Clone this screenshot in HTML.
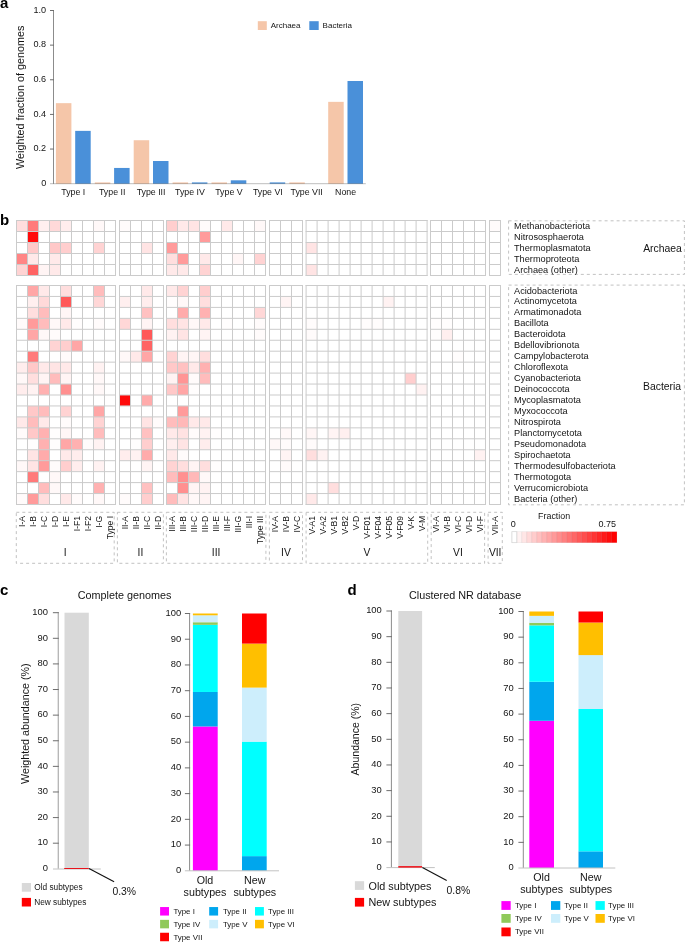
<!DOCTYPE html>
<html><head><meta charset="utf-8"><title>Figure</title>
<style>
html,body{margin:0;padding:0;background:#fff;}
body{width:685px;height:942px;overflow:hidden;}
svg{display:block;font-family:"Liberation Sans", sans-serif;will-change:transform;}
</style></head><body>
<svg width="685" height="942" viewBox="0 0 685 942">
<rect x="0" y="0" width="685" height="942" fill="#fff"/>
<text x="0.00" y="7.80" font-size="15" text-anchor="start" fill="#000" font-weight="bold" >a</text>
<text x="0.00" y="224.90" font-size="15" text-anchor="start" fill="#000" font-weight="bold" >b</text>
<text x="0.00" y="595.00" font-size="15" text-anchor="start" fill="#000" font-weight="bold" >c</text>
<text x="347.50" y="594.70" font-size="15" text-anchor="start" fill="#000" font-weight="bold" >d</text>
<line x1="53.50" y1="10.00" x2="53.50" y2="183.70" stroke="#8c8c8c" stroke-width="1" />
<text x="46.20" y="183.00" font-size="9.1" text-anchor="end" fill="#141414" font-weight="normal" dominant-baseline="central" >0</text>
<line x1="50.00" y1="149.06" x2="54.00" y2="149.06" stroke="#6e6e6e" stroke-width="1" />
<text x="46.20" y="148.36" font-size="9.1" text-anchor="end" fill="#141414" font-weight="normal" dominant-baseline="central" >0.2</text>
<line x1="50.00" y1="114.42" x2="54.00" y2="114.42" stroke="#6e6e6e" stroke-width="1" />
<text x="46.20" y="113.72" font-size="9.1" text-anchor="end" fill="#141414" font-weight="normal" dominant-baseline="central" >0.4</text>
<line x1="50.00" y1="79.78" x2="54.00" y2="79.78" stroke="#6e6e6e" stroke-width="1" />
<text x="46.20" y="79.08" font-size="9.1" text-anchor="end" fill="#141414" font-weight="normal" dominant-baseline="central" >0.6</text>
<line x1="50.00" y1="45.14" x2="54.00" y2="45.14" stroke="#6e6e6e" stroke-width="1" />
<text x="46.20" y="44.44" font-size="9.1" text-anchor="end" fill="#141414" font-weight="normal" dominant-baseline="central" >0.8</text>
<line x1="50.00" y1="10.50" x2="54.00" y2="10.50" stroke="#6e6e6e" stroke-width="1" />
<text x="46.20" y="9.80" font-size="9.1" text-anchor="end" fill="#141414" font-weight="normal" dominant-baseline="central" >1.0</text>
<text transform="translate(20.3,97.3) rotate(-90)" font-size="10.8" text-anchor="middle" dominant-baseline="central" fill="#141414">Weighted fraction of genomes</text>
<rect x="55.90" y="103.16" width="15.50" height="80.54" fill="#f5c6a9" />
<rect x="75.20" y="130.87" width="15.50" height="52.83" fill="#4a90d9" />
<text x="73.30" y="192.30" font-size="8.8" text-anchor="middle" fill="#141414" font-weight="normal" dominant-baseline="central" >Type I</text>
<rect x="94.80" y="182.40" width="15.50" height="1.30" fill="#f5c6a9" />
<rect x="114.10" y="167.94" width="15.50" height="15.76" fill="#4a90d9" />
<text x="112.20" y="192.30" font-size="8.8" text-anchor="middle" fill="#141414" font-weight="normal" dominant-baseline="central" >Type II</text>
<rect x="133.70" y="140.23" width="15.50" height="43.47" fill="#f5c6a9" />
<rect x="153.00" y="161.01" width="15.50" height="22.69" fill="#4a90d9" />
<text x="151.10" y="192.30" font-size="8.8" text-anchor="middle" fill="#141414" font-weight="normal" dominant-baseline="central" >Type III</text>
<rect x="172.60" y="182.40" width="15.50" height="1.30" fill="#f5c6a9" />
<rect x="191.90" y="182.40" width="15.50" height="1.30" fill="#4a90d9" />
<text x="190.00" y="192.30" font-size="8.8" text-anchor="middle" fill="#141414" font-weight="normal" dominant-baseline="central" >Type IV</text>
<rect x="211.50" y="182.40" width="15.50" height="1.30" fill="#f5c6a9" />
<rect x="230.80" y="180.31" width="15.50" height="3.39" fill="#4a90d9" />
<text x="228.90" y="192.30" font-size="8.8" text-anchor="middle" fill="#141414" font-weight="normal" dominant-baseline="central" >Type V</text>
<rect x="269.70" y="182.40" width="15.50" height="1.30" fill="#4a90d9" />
<text x="267.80" y="192.30" font-size="8.8" text-anchor="middle" fill="#141414" font-weight="normal" dominant-baseline="central" >Type VI</text>
<rect x="289.30" y="182.40" width="15.50" height="1.30" fill="#f5c6a9" />
<text x="306.70" y="192.30" font-size="8.8" text-anchor="middle" fill="#141414" font-weight="normal" dominant-baseline="central" >Type VII</text>
<rect x="328.20" y="101.85" width="15.50" height="81.85" fill="#f5c6a9" />
<rect x="347.50" y="80.99" width="15.50" height="102.71" fill="#4a90d9" />
<text x="345.60" y="192.30" font-size="8.8" text-anchor="middle" fill="#141414" font-weight="normal" dominant-baseline="central" >None</text>
<line x1="50.00" y1="183.70" x2="365.80" y2="183.70" stroke="rgba(0,0,0,0.26)" stroke-width="1" />
<rect x="257.80" y="21.20" width="9.00" height="8.80" fill="#f5c6a9" />
<text x="270.70" y="25.60" font-size="8.0" text-anchor="start" fill="#141414" font-weight="normal" dominant-baseline="central" >Archaea</text>
<rect x="309.30" y="21.20" width="9.40" height="8.80" fill="#4a90d9" />
<text x="322.60" y="25.60" font-size="8.0" text-anchor="start" fill="#141414" font-weight="normal" dominant-baseline="central" >Bacteria</text>
<rect x="16.50" y="220.50" width="11.00" height="11.00" fill="rgb(255,222,222)" />
<rect x="27.50" y="220.50" width="11.00" height="11.00" fill="rgb(255,122,122)" />
<rect x="38.50" y="220.50" width="11.00" height="11.00" fill="rgb(255,239,239)" />
<rect x="49.50" y="220.50" width="11.00" height="11.00" fill="rgb(255,217,217)" />
<rect x="60.50" y="220.50" width="11.00" height="11.00" fill="rgb(255,237,237)" />
<rect x="93.50" y="220.50" width="11.00" height="11.00" fill="rgb(255,248,248)" />
<rect x="119.50" y="220.50" width="11.00" height="11.00" fill="rgb(255,251,251)" />
<rect x="166.50" y="220.50" width="11.00" height="11.00" fill="rgb(255,206,206)" />
<rect x="177.50" y="220.50" width="11.00" height="11.00" fill="rgb(255,233,233)" />
<rect x="188.50" y="220.50" width="11.00" height="11.00" fill="rgb(255,228,228)" />
<rect x="199.50" y="220.50" width="11.00" height="11.00" fill="rgb(255,251,251)" />
<rect x="221.50" y="220.50" width="11.00" height="11.00" fill="rgb(255,233,233)" />
<rect x="254.50" y="220.50" width="11.00" height="11.00" fill="rgb(255,248,248)" />
<rect x="489.50" y="220.50" width="11.00" height="11.00" fill="rgb(255,251,251)" />
<rect x="27.50" y="231.50" width="11.00" height="11.00" fill="rgb(255,11,11)" />
<rect x="199.50" y="231.50" width="11.00" height="11.00" fill="rgb(255,155,155)" />
<rect x="27.50" y="242.50" width="11.00" height="11.00" fill="rgb(255,200,200)" />
<rect x="49.50" y="242.50" width="11.00" height="11.00" fill="rgb(255,200,200)" />
<rect x="60.50" y="242.50" width="11.00" height="11.00" fill="rgb(255,206,206)" />
<rect x="93.50" y="242.50" width="11.00" height="11.00" fill="rgb(255,211,211)" />
<rect x="141.50" y="242.50" width="11.00" height="11.00" fill="rgb(255,228,228)" />
<rect x="166.50" y="242.50" width="11.00" height="11.00" fill="rgb(255,155,155)" />
<rect x="306.10" y="242.50" width="11.00" height="11.00" fill="rgb(255,228,228)" />
<rect x="16.50" y="253.50" width="11.00" height="11.00" fill="rgb(255,133,133)" />
<rect x="27.50" y="253.50" width="11.00" height="11.00" fill="rgb(255,233,233)" />
<rect x="49.50" y="253.50" width="11.00" height="11.00" fill="rgb(255,233,233)" />
<rect x="166.50" y="253.50" width="11.00" height="11.00" fill="rgb(255,222,222)" />
<rect x="177.50" y="253.50" width="11.00" height="11.00" fill="rgb(255,155,155)" />
<rect x="199.50" y="253.50" width="11.00" height="11.00" fill="rgb(255,233,233)" />
<rect x="232.50" y="253.50" width="11.00" height="11.00" fill="rgb(255,246,246)" />
<rect x="254.50" y="253.50" width="11.00" height="11.00" fill="rgb(255,211,211)" />
<rect x="16.50" y="264.50" width="11.00" height="11.00" fill="rgb(255,211,211)" />
<rect x="27.50" y="264.50" width="11.00" height="11.00" fill="rgb(255,100,100)" />
<rect x="38.50" y="264.50" width="11.00" height="11.00" fill="rgb(255,244,244)" />
<rect x="49.50" y="264.50" width="11.00" height="11.00" fill="rgb(255,233,233)" />
<rect x="166.50" y="264.50" width="11.00" height="11.00" fill="rgb(255,233,233)" />
<rect x="177.50" y="264.50" width="11.00" height="11.00" fill="rgb(255,233,233)" />
<rect x="199.50" y="264.50" width="11.00" height="11.00" fill="rgb(255,211,211)" />
<rect x="306.10" y="264.50" width="11.00" height="11.00" fill="rgb(255,228,228)" />
<line x1="16.50" y1="220.00" x2="16.50" y2="276.00" stroke="#cbcbcb" stroke-width="1" />
<line x1="27.50" y1="220.00" x2="27.50" y2="276.00" stroke="#cbcbcb" stroke-width="1" />
<line x1="38.50" y1="220.00" x2="38.50" y2="276.00" stroke="#cbcbcb" stroke-width="1" />
<line x1="49.50" y1="220.00" x2="49.50" y2="276.00" stroke="#cbcbcb" stroke-width="1" />
<line x1="60.50" y1="220.00" x2="60.50" y2="276.00" stroke="#cbcbcb" stroke-width="1" />
<line x1="71.50" y1="220.00" x2="71.50" y2="276.00" stroke="#cbcbcb" stroke-width="1" />
<line x1="82.50" y1="220.00" x2="82.50" y2="276.00" stroke="#cbcbcb" stroke-width="1" />
<line x1="93.50" y1="220.00" x2="93.50" y2="276.00" stroke="#cbcbcb" stroke-width="1" />
<line x1="104.50" y1="220.00" x2="104.50" y2="276.00" stroke="#cbcbcb" stroke-width="1" />
<line x1="115.50" y1="220.00" x2="115.50" y2="276.00" stroke="#cbcbcb" stroke-width="1" />
<line x1="16.00" y1="220.50" x2="116.00" y2="220.50" stroke="#cbcbcb" stroke-width="1" />
<line x1="16.00" y1="231.50" x2="116.00" y2="231.50" stroke="#cbcbcb" stroke-width="1" />
<line x1="16.00" y1="242.50" x2="116.00" y2="242.50" stroke="#cbcbcb" stroke-width="1" />
<line x1="16.00" y1="253.50" x2="116.00" y2="253.50" stroke="#cbcbcb" stroke-width="1" />
<line x1="16.00" y1="264.50" x2="116.00" y2="264.50" stroke="#cbcbcb" stroke-width="1" />
<line x1="16.00" y1="275.50" x2="116.00" y2="275.50" stroke="#cbcbcb" stroke-width="1" />
<line x1="119.50" y1="220.00" x2="119.50" y2="276.00" stroke="#cbcbcb" stroke-width="1" />
<line x1="130.50" y1="220.00" x2="130.50" y2="276.00" stroke="#cbcbcb" stroke-width="1" />
<line x1="141.50" y1="220.00" x2="141.50" y2="276.00" stroke="#cbcbcb" stroke-width="1" />
<line x1="152.50" y1="220.00" x2="152.50" y2="276.00" stroke="#cbcbcb" stroke-width="1" />
<line x1="163.50" y1="220.00" x2="163.50" y2="276.00" stroke="#cbcbcb" stroke-width="1" />
<line x1="119.00" y1="220.50" x2="164.00" y2="220.50" stroke="#cbcbcb" stroke-width="1" />
<line x1="119.00" y1="231.50" x2="164.00" y2="231.50" stroke="#cbcbcb" stroke-width="1" />
<line x1="119.00" y1="242.50" x2="164.00" y2="242.50" stroke="#cbcbcb" stroke-width="1" />
<line x1="119.00" y1="253.50" x2="164.00" y2="253.50" stroke="#cbcbcb" stroke-width="1" />
<line x1="119.00" y1="264.50" x2="164.00" y2="264.50" stroke="#cbcbcb" stroke-width="1" />
<line x1="119.00" y1="275.50" x2="164.00" y2="275.50" stroke="#cbcbcb" stroke-width="1" />
<line x1="166.50" y1="220.00" x2="166.50" y2="276.00" stroke="#cbcbcb" stroke-width="1" />
<line x1="177.50" y1="220.00" x2="177.50" y2="276.00" stroke="#cbcbcb" stroke-width="1" />
<line x1="188.50" y1="220.00" x2="188.50" y2="276.00" stroke="#cbcbcb" stroke-width="1" />
<line x1="199.50" y1="220.00" x2="199.50" y2="276.00" stroke="#cbcbcb" stroke-width="1" />
<line x1="210.50" y1="220.00" x2="210.50" y2="276.00" stroke="#cbcbcb" stroke-width="1" />
<line x1="221.50" y1="220.00" x2="221.50" y2="276.00" stroke="#cbcbcb" stroke-width="1" />
<line x1="232.50" y1="220.00" x2="232.50" y2="276.00" stroke="#cbcbcb" stroke-width="1" />
<line x1="243.50" y1="220.00" x2="243.50" y2="276.00" stroke="#cbcbcb" stroke-width="1" />
<line x1="254.50" y1="220.00" x2="254.50" y2="276.00" stroke="#cbcbcb" stroke-width="1" />
<line x1="265.50" y1="220.00" x2="265.50" y2="276.00" stroke="#cbcbcb" stroke-width="1" />
<line x1="166.00" y1="220.50" x2="266.00" y2="220.50" stroke="#cbcbcb" stroke-width="1" />
<line x1="166.00" y1="231.50" x2="266.00" y2="231.50" stroke="#cbcbcb" stroke-width="1" />
<line x1="166.00" y1="242.50" x2="266.00" y2="242.50" stroke="#cbcbcb" stroke-width="1" />
<line x1="166.00" y1="253.50" x2="266.00" y2="253.50" stroke="#cbcbcb" stroke-width="1" />
<line x1="166.00" y1="264.50" x2="266.00" y2="264.50" stroke="#cbcbcb" stroke-width="1" />
<line x1="166.00" y1="275.50" x2="266.00" y2="275.50" stroke="#cbcbcb" stroke-width="1" />
<line x1="269.50" y1="220.00" x2="269.50" y2="276.00" stroke="#cbcbcb" stroke-width="1" />
<line x1="280.50" y1="220.00" x2="280.50" y2="276.00" stroke="#cbcbcb" stroke-width="1" />
<line x1="291.50" y1="220.00" x2="291.50" y2="276.00" stroke="#cbcbcb" stroke-width="1" />
<line x1="302.50" y1="220.00" x2="302.50" y2="276.00" stroke="#cbcbcb" stroke-width="1" />
<line x1="269.00" y1="220.50" x2="303.00" y2="220.50" stroke="#cbcbcb" stroke-width="1" />
<line x1="269.00" y1="231.50" x2="303.00" y2="231.50" stroke="#cbcbcb" stroke-width="1" />
<line x1="269.00" y1="242.50" x2="303.00" y2="242.50" stroke="#cbcbcb" stroke-width="1" />
<line x1="269.00" y1="253.50" x2="303.00" y2="253.50" stroke="#cbcbcb" stroke-width="1" />
<line x1="269.00" y1="264.50" x2="303.00" y2="264.50" stroke="#cbcbcb" stroke-width="1" />
<line x1="269.00" y1="275.50" x2="303.00" y2="275.50" stroke="#cbcbcb" stroke-width="1" />
<line x1="306.10" y1="220.00" x2="306.10" y2="276.00" stroke="#cbcbcb" stroke-width="1" />
<line x1="317.10" y1="220.00" x2="317.10" y2="276.00" stroke="#cbcbcb" stroke-width="1" />
<line x1="328.10" y1="220.00" x2="328.10" y2="276.00" stroke="#cbcbcb" stroke-width="1" />
<line x1="339.10" y1="220.00" x2="339.10" y2="276.00" stroke="#cbcbcb" stroke-width="1" />
<line x1="350.10" y1="220.00" x2="350.10" y2="276.00" stroke="#cbcbcb" stroke-width="1" />
<line x1="361.10" y1="220.00" x2="361.10" y2="276.00" stroke="#cbcbcb" stroke-width="1" />
<line x1="372.10" y1="220.00" x2="372.10" y2="276.00" stroke="#cbcbcb" stroke-width="1" />
<line x1="383.10" y1="220.00" x2="383.10" y2="276.00" stroke="#cbcbcb" stroke-width="1" />
<line x1="394.10" y1="220.00" x2="394.10" y2="276.00" stroke="#cbcbcb" stroke-width="1" />
<line x1="405.10" y1="220.00" x2="405.10" y2="276.00" stroke="#cbcbcb" stroke-width="1" />
<line x1="416.10" y1="220.00" x2="416.10" y2="276.00" stroke="#cbcbcb" stroke-width="1" />
<line x1="427.10" y1="220.00" x2="427.10" y2="276.00" stroke="#cbcbcb" stroke-width="1" />
<line x1="305.60" y1="220.50" x2="427.60" y2="220.50" stroke="#cbcbcb" stroke-width="1" />
<line x1="305.60" y1="231.50" x2="427.60" y2="231.50" stroke="#cbcbcb" stroke-width="1" />
<line x1="305.60" y1="242.50" x2="427.60" y2="242.50" stroke="#cbcbcb" stroke-width="1" />
<line x1="305.60" y1="253.50" x2="427.60" y2="253.50" stroke="#cbcbcb" stroke-width="1" />
<line x1="305.60" y1="264.50" x2="427.60" y2="264.50" stroke="#cbcbcb" stroke-width="1" />
<line x1="305.60" y1="275.50" x2="427.60" y2="275.50" stroke="#cbcbcb" stroke-width="1" />
<line x1="430.50" y1="220.00" x2="430.50" y2="276.00" stroke="#cbcbcb" stroke-width="1" />
<line x1="441.50" y1="220.00" x2="441.50" y2="276.00" stroke="#cbcbcb" stroke-width="1" />
<line x1="452.50" y1="220.00" x2="452.50" y2="276.00" stroke="#cbcbcb" stroke-width="1" />
<line x1="463.50" y1="220.00" x2="463.50" y2="276.00" stroke="#cbcbcb" stroke-width="1" />
<line x1="474.50" y1="220.00" x2="474.50" y2="276.00" stroke="#cbcbcb" stroke-width="1" />
<line x1="485.50" y1="220.00" x2="485.50" y2="276.00" stroke="#cbcbcb" stroke-width="1" />
<line x1="430.00" y1="220.50" x2="486.00" y2="220.50" stroke="#cbcbcb" stroke-width="1" />
<line x1="430.00" y1="231.50" x2="486.00" y2="231.50" stroke="#cbcbcb" stroke-width="1" />
<line x1="430.00" y1="242.50" x2="486.00" y2="242.50" stroke="#cbcbcb" stroke-width="1" />
<line x1="430.00" y1="253.50" x2="486.00" y2="253.50" stroke="#cbcbcb" stroke-width="1" />
<line x1="430.00" y1="264.50" x2="486.00" y2="264.50" stroke="#cbcbcb" stroke-width="1" />
<line x1="430.00" y1="275.50" x2="486.00" y2="275.50" stroke="#cbcbcb" stroke-width="1" />
<line x1="489.50" y1="220.00" x2="489.50" y2="276.00" stroke="#cbcbcb" stroke-width="1" />
<line x1="500.50" y1="220.00" x2="500.50" y2="276.00" stroke="#cbcbcb" stroke-width="1" />
<line x1="489.00" y1="220.50" x2="501.00" y2="220.50" stroke="#cbcbcb" stroke-width="1" />
<line x1="489.00" y1="231.50" x2="501.00" y2="231.50" stroke="#cbcbcb" stroke-width="1" />
<line x1="489.00" y1="242.50" x2="501.00" y2="242.50" stroke="#cbcbcb" stroke-width="1" />
<line x1="489.00" y1="253.50" x2="501.00" y2="253.50" stroke="#cbcbcb" stroke-width="1" />
<line x1="489.00" y1="264.50" x2="501.00" y2="264.50" stroke="#cbcbcb" stroke-width="1" />
<line x1="489.00" y1="275.50" x2="501.00" y2="275.50" stroke="#cbcbcb" stroke-width="1" />
<rect x="27.50" y="285.50" width="11.00" height="10.95" fill="rgb(255,166,166)" />
<rect x="38.50" y="285.50" width="11.00" height="10.95" fill="rgb(255,233,233)" />
<rect x="60.50" y="285.50" width="11.00" height="10.95" fill="rgb(255,222,222)" />
<rect x="93.50" y="285.50" width="11.00" height="10.95" fill="rgb(255,188,188)" />
<rect x="141.50" y="285.50" width="11.00" height="10.95" fill="rgb(255,233,233)" />
<rect x="166.50" y="285.50" width="11.00" height="10.95" fill="rgb(255,233,233)" />
<rect x="177.50" y="285.50" width="11.00" height="10.95" fill="rgb(255,211,211)" />
<rect x="199.50" y="285.50" width="11.00" height="10.95" fill="rgb(255,206,206)" />
<rect x="27.50" y="296.45" width="11.00" height="10.95" fill="rgb(255,239,239)" />
<rect x="38.50" y="296.45" width="11.00" height="10.95" fill="rgb(255,217,217)" />
<rect x="60.50" y="296.45" width="11.00" height="10.95" fill="rgb(255,89,89)" />
<rect x="93.50" y="296.45" width="11.00" height="10.95" fill="rgb(255,215,215)" />
<rect x="119.50" y="296.45" width="11.00" height="10.95" fill="rgb(255,239,239)" />
<rect x="141.50" y="296.45" width="11.00" height="10.95" fill="rgb(255,237,237)" />
<rect x="166.50" y="296.45" width="11.00" height="10.95" fill="rgb(255,253,253)" />
<rect x="177.50" y="296.45" width="11.00" height="10.95" fill="rgb(255,248,248)" />
<rect x="199.50" y="296.45" width="11.00" height="10.95" fill="rgb(255,222,222)" />
<rect x="280.50" y="296.45" width="11.00" height="10.95" fill="rgb(255,244,244)" />
<rect x="383.10" y="296.45" width="11.00" height="10.95" fill="rgb(255,242,242)" />
<rect x="27.50" y="307.40" width="11.00" height="10.95" fill="rgb(255,222,222)" />
<rect x="38.50" y="307.40" width="11.00" height="10.95" fill="rgb(255,188,188)" />
<rect x="60.50" y="307.40" width="11.00" height="10.95" fill="rgb(255,246,246)" />
<rect x="141.50" y="307.40" width="11.00" height="10.95" fill="rgb(255,193,193)" />
<rect x="177.50" y="307.40" width="11.00" height="10.95" fill="rgb(255,171,171)" />
<rect x="199.50" y="307.40" width="11.00" height="10.95" fill="rgb(255,177,177)" />
<rect x="254.50" y="307.40" width="11.00" height="10.95" fill="rgb(255,215,215)" />
<rect x="16.50" y="318.35" width="11.00" height="10.95" fill="rgb(255,251,251)" />
<rect x="27.50" y="318.35" width="11.00" height="10.95" fill="rgb(255,155,155)" />
<rect x="38.50" y="318.35" width="11.00" height="10.95" fill="rgb(255,188,188)" />
<rect x="49.50" y="318.35" width="11.00" height="10.95" fill="rgb(255,248,248)" />
<rect x="60.50" y="318.35" width="11.00" height="10.95" fill="rgb(255,233,233)" />
<rect x="71.50" y="318.35" width="11.00" height="10.95" fill="rgb(255,253,253)" />
<rect x="93.50" y="318.35" width="11.00" height="10.95" fill="rgb(255,251,251)" />
<rect x="119.50" y="318.35" width="11.00" height="10.95" fill="rgb(255,215,215)" />
<rect x="141.50" y="318.35" width="11.00" height="10.95" fill="rgb(255,244,244)" />
<rect x="166.50" y="318.35" width="11.00" height="10.95" fill="rgb(255,222,222)" />
<rect x="177.50" y="318.35" width="11.00" height="10.95" fill="rgb(255,228,228)" />
<rect x="188.50" y="318.35" width="11.00" height="10.95" fill="rgb(255,248,248)" />
<rect x="199.50" y="318.35" width="11.00" height="10.95" fill="rgb(255,233,233)" />
<rect x="221.50" y="318.35" width="11.00" height="10.95" fill="rgb(255,253,253)" />
<rect x="254.50" y="318.35" width="11.00" height="10.95" fill="rgb(255,251,251)" />
<rect x="306.10" y="318.35" width="11.00" height="10.95" fill="rgb(255,252,252)" />
<rect x="361.10" y="318.35" width="11.00" height="10.95" fill="rgb(255,252,252)" />
<rect x="372.10" y="318.35" width="11.00" height="10.95" fill="rgb(255,252,252)" />
<rect x="430.50" y="318.35" width="11.00" height="10.95" fill="rgb(255,253,253)" />
<rect x="441.50" y="318.35" width="11.00" height="10.95" fill="rgb(255,253,253)" />
<rect x="27.50" y="329.30" width="11.00" height="10.95" fill="rgb(255,166,166)" />
<rect x="38.50" y="329.30" width="11.00" height="10.95" fill="rgb(255,248,248)" />
<rect x="49.50" y="329.30" width="11.00" height="10.95" fill="rgb(255,251,251)" />
<rect x="141.50" y="329.30" width="11.00" height="10.95" fill="rgb(255,89,89)" />
<rect x="166.50" y="329.30" width="11.00" height="10.95" fill="rgb(255,242,242)" />
<rect x="177.50" y="329.30" width="11.00" height="10.95" fill="rgb(255,228,228)" />
<rect x="199.50" y="329.30" width="11.00" height="10.95" fill="rgb(255,244,244)" />
<rect x="254.50" y="329.30" width="11.00" height="10.95" fill="rgb(255,251,251)" />
<rect x="306.10" y="329.30" width="11.00" height="10.95" fill="rgb(255,251,251)" />
<rect x="430.50" y="329.30" width="11.00" height="10.95" fill="rgb(255,253,253)" />
<rect x="441.50" y="329.30" width="11.00" height="10.95" fill="rgb(255,239,239)" />
<rect x="49.50" y="340.25" width="11.00" height="10.95" fill="rgb(255,211,211)" />
<rect x="60.50" y="340.25" width="11.00" height="10.95" fill="rgb(255,206,206)" />
<rect x="71.50" y="340.25" width="11.00" height="10.95" fill="rgb(255,166,166)" />
<rect x="141.50" y="340.25" width="11.00" height="10.95" fill="rgb(255,100,100)" />
<rect x="27.50" y="351.20" width="11.00" height="10.95" fill="rgb(255,122,122)" />
<rect x="60.50" y="351.20" width="11.00" height="10.95" fill="rgb(255,251,251)" />
<rect x="119.50" y="351.20" width="11.00" height="10.95" fill="rgb(255,248,248)" />
<rect x="130.50" y="351.20" width="11.00" height="10.95" fill="rgb(255,233,233)" />
<rect x="141.50" y="351.20" width="11.00" height="10.95" fill="rgb(255,166,166)" />
<rect x="166.50" y="351.20" width="11.00" height="10.95" fill="rgb(255,211,211)" />
<rect x="177.50" y="351.20" width="11.00" height="10.95" fill="rgb(255,244,244)" />
<rect x="188.50" y="351.20" width="11.00" height="10.95" fill="rgb(255,246,246)" />
<rect x="199.50" y="351.20" width="11.00" height="10.95" fill="rgb(255,222,222)" />
<rect x="452.50" y="351.20" width="11.00" height="10.95" fill="rgb(255,253,253)" />
<rect x="16.50" y="362.15" width="11.00" height="10.95" fill="rgb(255,237,237)" />
<rect x="27.50" y="362.15" width="11.00" height="10.95" fill="rgb(255,200,200)" />
<rect x="38.50" y="362.15" width="11.00" height="10.95" fill="rgb(255,233,233)" />
<rect x="49.50" y="362.15" width="11.00" height="10.95" fill="rgb(255,228,228)" />
<rect x="60.50" y="362.15" width="11.00" height="10.95" fill="rgb(255,233,233)" />
<rect x="93.50" y="362.15" width="11.00" height="10.95" fill="rgb(255,242,242)" />
<rect x="166.50" y="362.15" width="11.00" height="10.95" fill="rgb(255,200,200)" />
<rect x="177.50" y="362.15" width="11.00" height="10.95" fill="rgb(255,193,193)" />
<rect x="188.50" y="362.15" width="11.00" height="10.95" fill="rgb(255,233,233)" />
<rect x="199.50" y="362.15" width="11.00" height="10.95" fill="rgb(255,177,177)" />
<rect x="16.50" y="373.10" width="11.00" height="10.95" fill="rgb(255,248,248)" />
<rect x="27.50" y="373.10" width="11.00" height="10.95" fill="rgb(255,222,222)" />
<rect x="38.50" y="373.10" width="11.00" height="10.95" fill="rgb(255,244,244)" />
<rect x="49.50" y="373.10" width="11.00" height="10.95" fill="rgb(255,188,188)" />
<rect x="60.50" y="373.10" width="11.00" height="10.95" fill="rgb(255,244,244)" />
<rect x="93.50" y="373.10" width="11.00" height="10.95" fill="rgb(255,248,248)" />
<rect x="166.50" y="373.10" width="11.00" height="10.95" fill="rgb(255,242,242)" />
<rect x="177.50" y="373.10" width="11.00" height="10.95" fill="rgb(255,149,149)" />
<rect x="188.50" y="373.10" width="11.00" height="10.95" fill="rgb(255,251,251)" />
<rect x="199.50" y="373.10" width="11.00" height="10.95" fill="rgb(255,188,188)" />
<rect x="405.10" y="373.10" width="11.00" height="10.95" fill="rgb(255,206,206)" />
<rect x="16.50" y="384.05" width="11.00" height="10.95" fill="rgb(255,237,237)" />
<rect x="27.50" y="384.05" width="11.00" height="10.95" fill="rgb(255,242,242)" />
<rect x="38.50" y="384.05" width="11.00" height="10.95" fill="rgb(255,177,177)" />
<rect x="60.50" y="384.05" width="11.00" height="10.95" fill="rgb(255,144,144)" />
<rect x="93.50" y="384.05" width="11.00" height="10.95" fill="rgb(255,248,248)" />
<rect x="166.50" y="384.05" width="11.00" height="10.95" fill="rgb(255,200,200)" />
<rect x="177.50" y="384.05" width="11.00" height="10.95" fill="rgb(255,166,166)" />
<rect x="188.50" y="384.05" width="11.00" height="10.95" fill="rgb(255,253,253)" />
<rect x="416.10" y="384.05" width="11.00" height="10.95" fill="rgb(255,242,242)" />
<rect x="119.50" y="395.00" width="11.00" height="10.95" fill="rgb(255,11,11)" />
<rect x="141.50" y="395.00" width="11.00" height="10.95" fill="rgb(255,171,171)" />
<rect x="27.50" y="405.95" width="11.00" height="10.95" fill="rgb(255,200,200)" />
<rect x="38.50" y="405.95" width="11.00" height="10.95" fill="rgb(255,188,188)" />
<rect x="60.50" y="405.95" width="11.00" height="10.95" fill="rgb(255,211,211)" />
<rect x="93.50" y="405.95" width="11.00" height="10.95" fill="rgb(255,166,166)" />
<rect x="177.50" y="405.95" width="11.00" height="10.95" fill="rgb(255,155,155)" />
<rect x="16.50" y="416.90" width="11.00" height="10.95" fill="rgb(255,233,233)" />
<rect x="27.50" y="416.90" width="11.00" height="10.95" fill="rgb(255,188,188)" />
<rect x="38.50" y="416.90" width="11.00" height="10.95" fill="rgb(255,233,233)" />
<rect x="60.50" y="416.90" width="11.00" height="10.95" fill="rgb(255,251,251)" />
<rect x="93.50" y="416.90" width="11.00" height="10.95" fill="rgb(255,211,211)" />
<rect x="141.50" y="416.90" width="11.00" height="10.95" fill="rgb(255,228,228)" />
<rect x="152.50" y="416.90" width="11.00" height="10.95" fill="rgb(255,251,251)" />
<rect x="166.50" y="416.90" width="11.00" height="10.95" fill="rgb(255,188,188)" />
<rect x="177.50" y="416.90" width="11.00" height="10.95" fill="rgb(255,184,184)" />
<rect x="188.50" y="416.90" width="11.00" height="10.95" fill="rgb(255,233,233)" />
<rect x="199.50" y="416.90" width="11.00" height="10.95" fill="rgb(255,233,233)" />
<rect x="16.50" y="427.85" width="11.00" height="10.95" fill="rgb(255,251,251)" />
<rect x="27.50" y="427.85" width="11.00" height="10.95" fill="rgb(255,200,200)" />
<rect x="38.50" y="427.85" width="11.00" height="10.95" fill="rgb(255,177,177)" />
<rect x="49.50" y="427.85" width="11.00" height="10.95" fill="rgb(255,253,253)" />
<rect x="60.50" y="427.85" width="11.00" height="10.95" fill="rgb(255,246,246)" />
<rect x="93.50" y="427.85" width="11.00" height="10.95" fill="rgb(255,188,188)" />
<rect x="141.50" y="427.85" width="11.00" height="10.95" fill="rgb(255,193,193)" />
<rect x="166.50" y="427.85" width="11.00" height="10.95" fill="rgb(255,233,233)" />
<rect x="177.50" y="427.85" width="11.00" height="10.95" fill="rgb(255,226,226)" />
<rect x="188.50" y="427.85" width="11.00" height="10.95" fill="rgb(255,251,251)" />
<rect x="199.50" y="427.85" width="11.00" height="10.95" fill="rgb(255,242,242)" />
<rect x="210.50" y="427.85" width="11.00" height="10.95" fill="rgb(255,253,253)" />
<rect x="280.50" y="427.85" width="11.00" height="10.95" fill="rgb(255,248,248)" />
<rect x="306.10" y="427.85" width="11.00" height="10.95" fill="rgb(255,246,246)" />
<rect x="328.10" y="427.85" width="11.00" height="10.95" fill="rgb(255,244,244)" />
<rect x="339.10" y="427.85" width="11.00" height="10.95" fill="rgb(255,239,239)" />
<rect x="27.50" y="438.80" width="11.00" height="10.95" fill="rgb(255,253,253)" />
<rect x="38.50" y="438.80" width="11.00" height="10.95" fill="rgb(255,177,177)" />
<rect x="49.50" y="438.80" width="11.00" height="10.95" fill="rgb(255,253,253)" />
<rect x="60.50" y="438.80" width="11.00" height="10.95" fill="rgb(255,166,166)" />
<rect x="71.50" y="438.80" width="11.00" height="10.95" fill="rgb(255,177,177)" />
<rect x="82.50" y="438.80" width="11.00" height="10.95" fill="rgb(255,251,251)" />
<rect x="93.50" y="438.80" width="11.00" height="10.95" fill="rgb(255,242,242)" />
<rect x="130.50" y="438.80" width="11.00" height="10.95" fill="rgb(255,253,253)" />
<rect x="141.50" y="438.80" width="11.00" height="10.95" fill="rgb(255,206,206)" />
<rect x="166.50" y="438.80" width="11.00" height="10.95" fill="rgb(255,239,239)" />
<rect x="177.50" y="438.80" width="11.00" height="10.95" fill="rgb(255,228,228)" />
<rect x="199.50" y="438.80" width="11.00" height="10.95" fill="rgb(255,237,237)" />
<rect x="269.50" y="438.80" width="11.00" height="10.95" fill="rgb(255,248,248)" />
<rect x="280.50" y="438.80" width="11.00" height="10.95" fill="rgb(255,251,251)" />
<rect x="306.10" y="438.80" width="11.00" height="10.95" fill="rgb(255,251,251)" />
<rect x="27.50" y="449.75" width="11.00" height="10.95" fill="rgb(255,228,228)" />
<rect x="38.50" y="449.75" width="11.00" height="10.95" fill="rgb(255,171,171)" />
<rect x="60.50" y="449.75" width="11.00" height="10.95" fill="rgb(255,233,233)" />
<rect x="71.50" y="449.75" width="11.00" height="10.95" fill="rgb(255,237,237)" />
<rect x="119.50" y="449.75" width="11.00" height="10.95" fill="rgb(255,237,237)" />
<rect x="130.50" y="449.75" width="11.00" height="10.95" fill="rgb(255,242,242)" />
<rect x="141.50" y="449.75" width="11.00" height="10.95" fill="rgb(255,171,171)" />
<rect x="166.50" y="449.75" width="11.00" height="10.95" fill="rgb(255,233,233)" />
<rect x="177.50" y="449.75" width="11.00" height="10.95" fill="rgb(255,251,251)" />
<rect x="280.50" y="449.75" width="11.00" height="10.95" fill="rgb(255,244,244)" />
<rect x="306.10" y="449.75" width="11.00" height="10.95" fill="rgb(255,222,222)" />
<rect x="317.10" y="449.75" width="11.00" height="10.95" fill="rgb(255,242,242)" />
<rect x="474.50" y="449.75" width="11.00" height="10.95" fill="rgb(255,242,242)" />
<rect x="16.50" y="460.70" width="11.00" height="10.95" fill="rgb(255,248,248)" />
<rect x="27.50" y="460.70" width="11.00" height="10.95" fill="rgb(255,228,228)" />
<rect x="38.50" y="460.70" width="11.00" height="10.95" fill="rgb(255,155,155)" />
<rect x="49.50" y="460.70" width="11.00" height="10.95" fill="rgb(255,251,251)" />
<rect x="60.50" y="460.70" width="11.00" height="10.95" fill="rgb(255,206,206)" />
<rect x="71.50" y="460.70" width="11.00" height="10.95" fill="rgb(255,237,237)" />
<rect x="93.50" y="460.70" width="11.00" height="10.95" fill="rgb(255,242,242)" />
<rect x="141.50" y="460.70" width="11.00" height="10.95" fill="rgb(255,244,244)" />
<rect x="166.50" y="460.70" width="11.00" height="10.95" fill="rgb(255,211,211)" />
<rect x="177.50" y="460.70" width="11.00" height="10.95" fill="rgb(255,222,222)" />
<rect x="188.50" y="460.70" width="11.00" height="10.95" fill="rgb(255,244,244)" />
<rect x="199.50" y="460.70" width="11.00" height="10.95" fill="rgb(255,222,222)" />
<rect x="210.50" y="460.70" width="11.00" height="10.95" fill="rgb(255,253,253)" />
<rect x="280.50" y="460.70" width="11.00" height="10.95" fill="rgb(255,251,251)" />
<rect x="27.50" y="471.65" width="11.00" height="10.95" fill="rgb(255,122,122)" />
<rect x="49.50" y="471.65" width="11.00" height="10.95" fill="rgb(255,248,248)" />
<rect x="166.50" y="471.65" width="11.00" height="10.95" fill="rgb(255,188,188)" />
<rect x="177.50" y="471.65" width="11.00" height="10.95" fill="rgb(255,144,144)" />
<rect x="188.50" y="471.65" width="11.00" height="10.95" fill="rgb(255,184,184)" />
<rect x="199.50" y="471.65" width="11.00" height="10.95" fill="rgb(255,248,248)" />
<rect x="38.50" y="482.60" width="11.00" height="10.95" fill="rgb(255,188,188)" />
<rect x="49.50" y="482.60" width="11.00" height="10.95" fill="rgb(255,248,248)" />
<rect x="93.50" y="482.60" width="11.00" height="10.95" fill="rgb(255,177,177)" />
<rect x="141.50" y="482.60" width="11.00" height="10.95" fill="rgb(255,193,193)" />
<rect x="177.50" y="482.60" width="11.00" height="10.95" fill="rgb(255,144,144)" />
<rect x="188.50" y="482.60" width="11.00" height="10.95" fill="rgb(255,244,244)" />
<rect x="199.50" y="482.60" width="11.00" height="10.95" fill="rgb(255,242,242)" />
<rect x="328.10" y="482.60" width="11.00" height="10.95" fill="rgb(255,222,222)" />
<rect x="16.50" y="493.55" width="11.00" height="10.95" fill="rgb(255,251,251)" />
<rect x="27.50" y="493.55" width="11.00" height="10.95" fill="rgb(255,155,155)" />
<rect x="38.50" y="493.55" width="11.00" height="10.95" fill="rgb(255,222,222)" />
<rect x="60.50" y="493.55" width="11.00" height="10.95" fill="rgb(255,233,233)" />
<rect x="71.50" y="493.55" width="11.00" height="10.95" fill="rgb(255,251,251)" />
<rect x="93.50" y="493.55" width="11.00" height="10.95" fill="rgb(255,248,248)" />
<rect x="119.50" y="493.55" width="11.00" height="10.95" fill="rgb(255,251,251)" />
<rect x="141.50" y="493.55" width="11.00" height="10.95" fill="rgb(255,206,206)" />
<rect x="166.50" y="493.55" width="11.00" height="10.95" fill="rgb(255,188,188)" />
<rect x="177.50" y="493.55" width="11.00" height="10.95" fill="rgb(255,228,228)" />
<rect x="188.50" y="493.55" width="11.00" height="10.95" fill="rgb(255,248,248)" />
<rect x="199.50" y="493.55" width="11.00" height="10.95" fill="rgb(255,244,244)" />
<rect x="306.10" y="493.55" width="11.00" height="10.95" fill="rgb(255,233,233)" />
<line x1="16.50" y1="285.00" x2="16.50" y2="505.00" stroke="#cbcbcb" stroke-width="1" />
<line x1="27.50" y1="285.00" x2="27.50" y2="505.00" stroke="#cbcbcb" stroke-width="1" />
<line x1="38.50" y1="285.00" x2="38.50" y2="505.00" stroke="#cbcbcb" stroke-width="1" />
<line x1="49.50" y1="285.00" x2="49.50" y2="505.00" stroke="#cbcbcb" stroke-width="1" />
<line x1="60.50" y1="285.00" x2="60.50" y2="505.00" stroke="#cbcbcb" stroke-width="1" />
<line x1="71.50" y1="285.00" x2="71.50" y2="505.00" stroke="#cbcbcb" stroke-width="1" />
<line x1="82.50" y1="285.00" x2="82.50" y2="505.00" stroke="#cbcbcb" stroke-width="1" />
<line x1="93.50" y1="285.00" x2="93.50" y2="505.00" stroke="#cbcbcb" stroke-width="1" />
<line x1="104.50" y1="285.00" x2="104.50" y2="505.00" stroke="#cbcbcb" stroke-width="1" />
<line x1="115.50" y1="285.00" x2="115.50" y2="505.00" stroke="#cbcbcb" stroke-width="1" />
<line x1="16.00" y1="285.50" x2="116.00" y2="285.50" stroke="#cbcbcb" stroke-width="1" />
<line x1="16.00" y1="296.45" x2="116.00" y2="296.45" stroke="#cbcbcb" stroke-width="1" />
<line x1="16.00" y1="307.40" x2="116.00" y2="307.40" stroke="#cbcbcb" stroke-width="1" />
<line x1="16.00" y1="318.35" x2="116.00" y2="318.35" stroke="#cbcbcb" stroke-width="1" />
<line x1="16.00" y1="329.30" x2="116.00" y2="329.30" stroke="#cbcbcb" stroke-width="1" />
<line x1="16.00" y1="340.25" x2="116.00" y2="340.25" stroke="#cbcbcb" stroke-width="1" />
<line x1="16.00" y1="351.20" x2="116.00" y2="351.20" stroke="#cbcbcb" stroke-width="1" />
<line x1="16.00" y1="362.15" x2="116.00" y2="362.15" stroke="#cbcbcb" stroke-width="1" />
<line x1="16.00" y1="373.10" x2="116.00" y2="373.10" stroke="#cbcbcb" stroke-width="1" />
<line x1="16.00" y1="384.05" x2="116.00" y2="384.05" stroke="#cbcbcb" stroke-width="1" />
<line x1="16.00" y1="395.00" x2="116.00" y2="395.00" stroke="#cbcbcb" stroke-width="1" />
<line x1="16.00" y1="405.95" x2="116.00" y2="405.95" stroke="#cbcbcb" stroke-width="1" />
<line x1="16.00" y1="416.90" x2="116.00" y2="416.90" stroke="#cbcbcb" stroke-width="1" />
<line x1="16.00" y1="427.85" x2="116.00" y2="427.85" stroke="#cbcbcb" stroke-width="1" />
<line x1="16.00" y1="438.80" x2="116.00" y2="438.80" stroke="#cbcbcb" stroke-width="1" />
<line x1="16.00" y1="449.75" x2="116.00" y2="449.75" stroke="#cbcbcb" stroke-width="1" />
<line x1="16.00" y1="460.70" x2="116.00" y2="460.70" stroke="#cbcbcb" stroke-width="1" />
<line x1="16.00" y1="471.65" x2="116.00" y2="471.65" stroke="#cbcbcb" stroke-width="1" />
<line x1="16.00" y1="482.60" x2="116.00" y2="482.60" stroke="#cbcbcb" stroke-width="1" />
<line x1="16.00" y1="493.55" x2="116.00" y2="493.55" stroke="#cbcbcb" stroke-width="1" />
<line x1="16.00" y1="504.50" x2="116.00" y2="504.50" stroke="#cbcbcb" stroke-width="1" />
<line x1="119.50" y1="285.00" x2="119.50" y2="505.00" stroke="#cbcbcb" stroke-width="1" />
<line x1="130.50" y1="285.00" x2="130.50" y2="505.00" stroke="#cbcbcb" stroke-width="1" />
<line x1="141.50" y1="285.00" x2="141.50" y2="505.00" stroke="#cbcbcb" stroke-width="1" />
<line x1="152.50" y1="285.00" x2="152.50" y2="505.00" stroke="#cbcbcb" stroke-width="1" />
<line x1="163.50" y1="285.00" x2="163.50" y2="505.00" stroke="#cbcbcb" stroke-width="1" />
<line x1="119.00" y1="285.50" x2="164.00" y2="285.50" stroke="#cbcbcb" stroke-width="1" />
<line x1="119.00" y1="296.45" x2="164.00" y2="296.45" stroke="#cbcbcb" stroke-width="1" />
<line x1="119.00" y1="307.40" x2="164.00" y2="307.40" stroke="#cbcbcb" stroke-width="1" />
<line x1="119.00" y1="318.35" x2="164.00" y2="318.35" stroke="#cbcbcb" stroke-width="1" />
<line x1="119.00" y1="329.30" x2="164.00" y2="329.30" stroke="#cbcbcb" stroke-width="1" />
<line x1="119.00" y1="340.25" x2="164.00" y2="340.25" stroke="#cbcbcb" stroke-width="1" />
<line x1="119.00" y1="351.20" x2="164.00" y2="351.20" stroke="#cbcbcb" stroke-width="1" />
<line x1="119.00" y1="362.15" x2="164.00" y2="362.15" stroke="#cbcbcb" stroke-width="1" />
<line x1="119.00" y1="373.10" x2="164.00" y2="373.10" stroke="#cbcbcb" stroke-width="1" />
<line x1="119.00" y1="384.05" x2="164.00" y2="384.05" stroke="#cbcbcb" stroke-width="1" />
<line x1="119.00" y1="395.00" x2="164.00" y2="395.00" stroke="#cbcbcb" stroke-width="1" />
<line x1="119.00" y1="405.95" x2="164.00" y2="405.95" stroke="#cbcbcb" stroke-width="1" />
<line x1="119.00" y1="416.90" x2="164.00" y2="416.90" stroke="#cbcbcb" stroke-width="1" />
<line x1="119.00" y1="427.85" x2="164.00" y2="427.85" stroke="#cbcbcb" stroke-width="1" />
<line x1="119.00" y1="438.80" x2="164.00" y2="438.80" stroke="#cbcbcb" stroke-width="1" />
<line x1="119.00" y1="449.75" x2="164.00" y2="449.75" stroke="#cbcbcb" stroke-width="1" />
<line x1="119.00" y1="460.70" x2="164.00" y2="460.70" stroke="#cbcbcb" stroke-width="1" />
<line x1="119.00" y1="471.65" x2="164.00" y2="471.65" stroke="#cbcbcb" stroke-width="1" />
<line x1="119.00" y1="482.60" x2="164.00" y2="482.60" stroke="#cbcbcb" stroke-width="1" />
<line x1="119.00" y1="493.55" x2="164.00" y2="493.55" stroke="#cbcbcb" stroke-width="1" />
<line x1="119.00" y1="504.50" x2="164.00" y2="504.50" stroke="#cbcbcb" stroke-width="1" />
<line x1="166.50" y1="285.00" x2="166.50" y2="505.00" stroke="#cbcbcb" stroke-width="1" />
<line x1="177.50" y1="285.00" x2="177.50" y2="505.00" stroke="#cbcbcb" stroke-width="1" />
<line x1="188.50" y1="285.00" x2="188.50" y2="505.00" stroke="#cbcbcb" stroke-width="1" />
<line x1="199.50" y1="285.00" x2="199.50" y2="505.00" stroke="#cbcbcb" stroke-width="1" />
<line x1="210.50" y1="285.00" x2="210.50" y2="505.00" stroke="#cbcbcb" stroke-width="1" />
<line x1="221.50" y1="285.00" x2="221.50" y2="505.00" stroke="#cbcbcb" stroke-width="1" />
<line x1="232.50" y1="285.00" x2="232.50" y2="505.00" stroke="#cbcbcb" stroke-width="1" />
<line x1="243.50" y1="285.00" x2="243.50" y2="505.00" stroke="#cbcbcb" stroke-width="1" />
<line x1="254.50" y1="285.00" x2="254.50" y2="505.00" stroke="#cbcbcb" stroke-width="1" />
<line x1="265.50" y1="285.00" x2="265.50" y2="505.00" stroke="#cbcbcb" stroke-width="1" />
<line x1="166.00" y1="285.50" x2="266.00" y2="285.50" stroke="#cbcbcb" stroke-width="1" />
<line x1="166.00" y1="296.45" x2="266.00" y2="296.45" stroke="#cbcbcb" stroke-width="1" />
<line x1="166.00" y1="307.40" x2="266.00" y2="307.40" stroke="#cbcbcb" stroke-width="1" />
<line x1="166.00" y1="318.35" x2="266.00" y2="318.35" stroke="#cbcbcb" stroke-width="1" />
<line x1="166.00" y1="329.30" x2="266.00" y2="329.30" stroke="#cbcbcb" stroke-width="1" />
<line x1="166.00" y1="340.25" x2="266.00" y2="340.25" stroke="#cbcbcb" stroke-width="1" />
<line x1="166.00" y1="351.20" x2="266.00" y2="351.20" stroke="#cbcbcb" stroke-width="1" />
<line x1="166.00" y1="362.15" x2="266.00" y2="362.15" stroke="#cbcbcb" stroke-width="1" />
<line x1="166.00" y1="373.10" x2="266.00" y2="373.10" stroke="#cbcbcb" stroke-width="1" />
<line x1="166.00" y1="384.05" x2="266.00" y2="384.05" stroke="#cbcbcb" stroke-width="1" />
<line x1="166.00" y1="395.00" x2="266.00" y2="395.00" stroke="#cbcbcb" stroke-width="1" />
<line x1="166.00" y1="405.95" x2="266.00" y2="405.95" stroke="#cbcbcb" stroke-width="1" />
<line x1="166.00" y1="416.90" x2="266.00" y2="416.90" stroke="#cbcbcb" stroke-width="1" />
<line x1="166.00" y1="427.85" x2="266.00" y2="427.85" stroke="#cbcbcb" stroke-width="1" />
<line x1="166.00" y1="438.80" x2="266.00" y2="438.80" stroke="#cbcbcb" stroke-width="1" />
<line x1="166.00" y1="449.75" x2="266.00" y2="449.75" stroke="#cbcbcb" stroke-width="1" />
<line x1="166.00" y1="460.70" x2="266.00" y2="460.70" stroke="#cbcbcb" stroke-width="1" />
<line x1="166.00" y1="471.65" x2="266.00" y2="471.65" stroke="#cbcbcb" stroke-width="1" />
<line x1="166.00" y1="482.60" x2="266.00" y2="482.60" stroke="#cbcbcb" stroke-width="1" />
<line x1="166.00" y1="493.55" x2="266.00" y2="493.55" stroke="#cbcbcb" stroke-width="1" />
<line x1="166.00" y1="504.50" x2="266.00" y2="504.50" stroke="#cbcbcb" stroke-width="1" />
<line x1="269.50" y1="285.00" x2="269.50" y2="505.00" stroke="#cbcbcb" stroke-width="1" />
<line x1="280.50" y1="285.00" x2="280.50" y2="505.00" stroke="#cbcbcb" stroke-width="1" />
<line x1="291.50" y1="285.00" x2="291.50" y2="505.00" stroke="#cbcbcb" stroke-width="1" />
<line x1="302.50" y1="285.00" x2="302.50" y2="505.00" stroke="#cbcbcb" stroke-width="1" />
<line x1="269.00" y1="285.50" x2="303.00" y2="285.50" stroke="#cbcbcb" stroke-width="1" />
<line x1="269.00" y1="296.45" x2="303.00" y2="296.45" stroke="#cbcbcb" stroke-width="1" />
<line x1="269.00" y1="307.40" x2="303.00" y2="307.40" stroke="#cbcbcb" stroke-width="1" />
<line x1="269.00" y1="318.35" x2="303.00" y2="318.35" stroke="#cbcbcb" stroke-width="1" />
<line x1="269.00" y1="329.30" x2="303.00" y2="329.30" stroke="#cbcbcb" stroke-width="1" />
<line x1="269.00" y1="340.25" x2="303.00" y2="340.25" stroke="#cbcbcb" stroke-width="1" />
<line x1="269.00" y1="351.20" x2="303.00" y2="351.20" stroke="#cbcbcb" stroke-width="1" />
<line x1="269.00" y1="362.15" x2="303.00" y2="362.15" stroke="#cbcbcb" stroke-width="1" />
<line x1="269.00" y1="373.10" x2="303.00" y2="373.10" stroke="#cbcbcb" stroke-width="1" />
<line x1="269.00" y1="384.05" x2="303.00" y2="384.05" stroke="#cbcbcb" stroke-width="1" />
<line x1="269.00" y1="395.00" x2="303.00" y2="395.00" stroke="#cbcbcb" stroke-width="1" />
<line x1="269.00" y1="405.95" x2="303.00" y2="405.95" stroke="#cbcbcb" stroke-width="1" />
<line x1="269.00" y1="416.90" x2="303.00" y2="416.90" stroke="#cbcbcb" stroke-width="1" />
<line x1="269.00" y1="427.85" x2="303.00" y2="427.85" stroke="#cbcbcb" stroke-width="1" />
<line x1="269.00" y1="438.80" x2="303.00" y2="438.80" stroke="#cbcbcb" stroke-width="1" />
<line x1="269.00" y1="449.75" x2="303.00" y2="449.75" stroke="#cbcbcb" stroke-width="1" />
<line x1="269.00" y1="460.70" x2="303.00" y2="460.70" stroke="#cbcbcb" stroke-width="1" />
<line x1="269.00" y1="471.65" x2="303.00" y2="471.65" stroke="#cbcbcb" stroke-width="1" />
<line x1="269.00" y1="482.60" x2="303.00" y2="482.60" stroke="#cbcbcb" stroke-width="1" />
<line x1="269.00" y1="493.55" x2="303.00" y2="493.55" stroke="#cbcbcb" stroke-width="1" />
<line x1="269.00" y1="504.50" x2="303.00" y2="504.50" stroke="#cbcbcb" stroke-width="1" />
<line x1="306.10" y1="285.00" x2="306.10" y2="505.00" stroke="#cbcbcb" stroke-width="1" />
<line x1="317.10" y1="285.00" x2="317.10" y2="505.00" stroke="#cbcbcb" stroke-width="1" />
<line x1="328.10" y1="285.00" x2="328.10" y2="505.00" stroke="#cbcbcb" stroke-width="1" />
<line x1="339.10" y1="285.00" x2="339.10" y2="505.00" stroke="#cbcbcb" stroke-width="1" />
<line x1="350.10" y1="285.00" x2="350.10" y2="505.00" stroke="#cbcbcb" stroke-width="1" />
<line x1="361.10" y1="285.00" x2="361.10" y2="505.00" stroke="#cbcbcb" stroke-width="1" />
<line x1="372.10" y1="285.00" x2="372.10" y2="505.00" stroke="#cbcbcb" stroke-width="1" />
<line x1="383.10" y1="285.00" x2="383.10" y2="505.00" stroke="#cbcbcb" stroke-width="1" />
<line x1="394.10" y1="285.00" x2="394.10" y2="505.00" stroke="#cbcbcb" stroke-width="1" />
<line x1="405.10" y1="285.00" x2="405.10" y2="505.00" stroke="#cbcbcb" stroke-width="1" />
<line x1="416.10" y1="285.00" x2="416.10" y2="505.00" stroke="#cbcbcb" stroke-width="1" />
<line x1="427.10" y1="285.00" x2="427.10" y2="505.00" stroke="#cbcbcb" stroke-width="1" />
<line x1="305.60" y1="285.50" x2="427.60" y2="285.50" stroke="#cbcbcb" stroke-width="1" />
<line x1="305.60" y1="296.45" x2="427.60" y2="296.45" stroke="#cbcbcb" stroke-width="1" />
<line x1="305.60" y1="307.40" x2="427.60" y2="307.40" stroke="#cbcbcb" stroke-width="1" />
<line x1="305.60" y1="318.35" x2="427.60" y2="318.35" stroke="#cbcbcb" stroke-width="1" />
<line x1="305.60" y1="329.30" x2="427.60" y2="329.30" stroke="#cbcbcb" stroke-width="1" />
<line x1="305.60" y1="340.25" x2="427.60" y2="340.25" stroke="#cbcbcb" stroke-width="1" />
<line x1="305.60" y1="351.20" x2="427.60" y2="351.20" stroke="#cbcbcb" stroke-width="1" />
<line x1="305.60" y1="362.15" x2="427.60" y2="362.15" stroke="#cbcbcb" stroke-width="1" />
<line x1="305.60" y1="373.10" x2="427.60" y2="373.10" stroke="#cbcbcb" stroke-width="1" />
<line x1="305.60" y1="384.05" x2="427.60" y2="384.05" stroke="#cbcbcb" stroke-width="1" />
<line x1="305.60" y1="395.00" x2="427.60" y2="395.00" stroke="#cbcbcb" stroke-width="1" />
<line x1="305.60" y1="405.95" x2="427.60" y2="405.95" stroke="#cbcbcb" stroke-width="1" />
<line x1="305.60" y1="416.90" x2="427.60" y2="416.90" stroke="#cbcbcb" stroke-width="1" />
<line x1="305.60" y1="427.85" x2="427.60" y2="427.85" stroke="#cbcbcb" stroke-width="1" />
<line x1="305.60" y1="438.80" x2="427.60" y2="438.80" stroke="#cbcbcb" stroke-width="1" />
<line x1="305.60" y1="449.75" x2="427.60" y2="449.75" stroke="#cbcbcb" stroke-width="1" />
<line x1="305.60" y1="460.70" x2="427.60" y2="460.70" stroke="#cbcbcb" stroke-width="1" />
<line x1="305.60" y1="471.65" x2="427.60" y2="471.65" stroke="#cbcbcb" stroke-width="1" />
<line x1="305.60" y1="482.60" x2="427.60" y2="482.60" stroke="#cbcbcb" stroke-width="1" />
<line x1="305.60" y1="493.55" x2="427.60" y2="493.55" stroke="#cbcbcb" stroke-width="1" />
<line x1="305.60" y1="504.50" x2="427.60" y2="504.50" stroke="#cbcbcb" stroke-width="1" />
<line x1="430.50" y1="285.00" x2="430.50" y2="505.00" stroke="#cbcbcb" stroke-width="1" />
<line x1="441.50" y1="285.00" x2="441.50" y2="505.00" stroke="#cbcbcb" stroke-width="1" />
<line x1="452.50" y1="285.00" x2="452.50" y2="505.00" stroke="#cbcbcb" stroke-width="1" />
<line x1="463.50" y1="285.00" x2="463.50" y2="505.00" stroke="#cbcbcb" stroke-width="1" />
<line x1="474.50" y1="285.00" x2="474.50" y2="505.00" stroke="#cbcbcb" stroke-width="1" />
<line x1="485.50" y1="285.00" x2="485.50" y2="505.00" stroke="#cbcbcb" stroke-width="1" />
<line x1="430.00" y1="285.50" x2="486.00" y2="285.50" stroke="#cbcbcb" stroke-width="1" />
<line x1="430.00" y1="296.45" x2="486.00" y2="296.45" stroke="#cbcbcb" stroke-width="1" />
<line x1="430.00" y1="307.40" x2="486.00" y2="307.40" stroke="#cbcbcb" stroke-width="1" />
<line x1="430.00" y1="318.35" x2="486.00" y2="318.35" stroke="#cbcbcb" stroke-width="1" />
<line x1="430.00" y1="329.30" x2="486.00" y2="329.30" stroke="#cbcbcb" stroke-width="1" />
<line x1="430.00" y1="340.25" x2="486.00" y2="340.25" stroke="#cbcbcb" stroke-width="1" />
<line x1="430.00" y1="351.20" x2="486.00" y2="351.20" stroke="#cbcbcb" stroke-width="1" />
<line x1="430.00" y1="362.15" x2="486.00" y2="362.15" stroke="#cbcbcb" stroke-width="1" />
<line x1="430.00" y1="373.10" x2="486.00" y2="373.10" stroke="#cbcbcb" stroke-width="1" />
<line x1="430.00" y1="384.05" x2="486.00" y2="384.05" stroke="#cbcbcb" stroke-width="1" />
<line x1="430.00" y1="395.00" x2="486.00" y2="395.00" stroke="#cbcbcb" stroke-width="1" />
<line x1="430.00" y1="405.95" x2="486.00" y2="405.95" stroke="#cbcbcb" stroke-width="1" />
<line x1="430.00" y1="416.90" x2="486.00" y2="416.90" stroke="#cbcbcb" stroke-width="1" />
<line x1="430.00" y1="427.85" x2="486.00" y2="427.85" stroke="#cbcbcb" stroke-width="1" />
<line x1="430.00" y1="438.80" x2="486.00" y2="438.80" stroke="#cbcbcb" stroke-width="1" />
<line x1="430.00" y1="449.75" x2="486.00" y2="449.75" stroke="#cbcbcb" stroke-width="1" />
<line x1="430.00" y1="460.70" x2="486.00" y2="460.70" stroke="#cbcbcb" stroke-width="1" />
<line x1="430.00" y1="471.65" x2="486.00" y2="471.65" stroke="#cbcbcb" stroke-width="1" />
<line x1="430.00" y1="482.60" x2="486.00" y2="482.60" stroke="#cbcbcb" stroke-width="1" />
<line x1="430.00" y1="493.55" x2="486.00" y2="493.55" stroke="#cbcbcb" stroke-width="1" />
<line x1="430.00" y1="504.50" x2="486.00" y2="504.50" stroke="#cbcbcb" stroke-width="1" />
<line x1="489.50" y1="285.00" x2="489.50" y2="505.00" stroke="#cbcbcb" stroke-width="1" />
<line x1="500.50" y1="285.00" x2="500.50" y2="505.00" stroke="#cbcbcb" stroke-width="1" />
<line x1="489.00" y1="285.50" x2="501.00" y2="285.50" stroke="#cbcbcb" stroke-width="1" />
<line x1="489.00" y1="296.45" x2="501.00" y2="296.45" stroke="#cbcbcb" stroke-width="1" />
<line x1="489.00" y1="307.40" x2="501.00" y2="307.40" stroke="#cbcbcb" stroke-width="1" />
<line x1="489.00" y1="318.35" x2="501.00" y2="318.35" stroke="#cbcbcb" stroke-width="1" />
<line x1="489.00" y1="329.30" x2="501.00" y2="329.30" stroke="#cbcbcb" stroke-width="1" />
<line x1="489.00" y1="340.25" x2="501.00" y2="340.25" stroke="#cbcbcb" stroke-width="1" />
<line x1="489.00" y1="351.20" x2="501.00" y2="351.20" stroke="#cbcbcb" stroke-width="1" />
<line x1="489.00" y1="362.15" x2="501.00" y2="362.15" stroke="#cbcbcb" stroke-width="1" />
<line x1="489.00" y1="373.10" x2="501.00" y2="373.10" stroke="#cbcbcb" stroke-width="1" />
<line x1="489.00" y1="384.05" x2="501.00" y2="384.05" stroke="#cbcbcb" stroke-width="1" />
<line x1="489.00" y1="395.00" x2="501.00" y2="395.00" stroke="#cbcbcb" stroke-width="1" />
<line x1="489.00" y1="405.95" x2="501.00" y2="405.95" stroke="#cbcbcb" stroke-width="1" />
<line x1="489.00" y1="416.90" x2="501.00" y2="416.90" stroke="#cbcbcb" stroke-width="1" />
<line x1="489.00" y1="427.85" x2="501.00" y2="427.85" stroke="#cbcbcb" stroke-width="1" />
<line x1="489.00" y1="438.80" x2="501.00" y2="438.80" stroke="#cbcbcb" stroke-width="1" />
<line x1="489.00" y1="449.75" x2="501.00" y2="449.75" stroke="#cbcbcb" stroke-width="1" />
<line x1="489.00" y1="460.70" x2="501.00" y2="460.70" stroke="#cbcbcb" stroke-width="1" />
<line x1="489.00" y1="471.65" x2="501.00" y2="471.65" stroke="#cbcbcb" stroke-width="1" />
<line x1="489.00" y1="482.60" x2="501.00" y2="482.60" stroke="#cbcbcb" stroke-width="1" />
<line x1="489.00" y1="493.55" x2="501.00" y2="493.55" stroke="#cbcbcb" stroke-width="1" />
<line x1="489.00" y1="504.50" x2="501.00" y2="504.50" stroke="#cbcbcb" stroke-width="1" />
<rect x="508.6" y="220.8" width="175.8" height="53.6" stroke="#b3b3b3" stroke-width="0.8" stroke-dasharray="3 3" fill="none"/>
<rect x="508.6" y="285.1" width="175.8" height="219.7" stroke="#b3b3b3" stroke-width="0.8" stroke-dasharray="3 3" fill="none"/>
<text x="514.00" y="226.00" font-size="9.2" text-anchor="start" fill="#141414" font-weight="normal" dominant-baseline="central" >Methanobacteriota</text>
<text x="514.00" y="237.00" font-size="9.2" text-anchor="start" fill="#141414" font-weight="normal" dominant-baseline="central" >Nitrososphaerota</text>
<text x="514.00" y="248.00" font-size="9.2" text-anchor="start" fill="#141414" font-weight="normal" dominant-baseline="central" >Thermoplasmatota</text>
<text x="514.00" y="259.00" font-size="9.2" text-anchor="start" fill="#141414" font-weight="normal" dominant-baseline="central" >Thermoproteota</text>
<text x="514.00" y="270.00" font-size="9.2" text-anchor="start" fill="#141414" font-weight="normal" dominant-baseline="central" >Archaea (other)</text>
<text x="514.00" y="290.50" font-size="9.2" text-anchor="start" fill="#141414" font-weight="normal" dominant-baseline="central" >Acidobacteriota</text>
<text x="514.00" y="301.45" font-size="9.2" text-anchor="start" fill="#141414" font-weight="normal" dominant-baseline="central" >Actinomycetota</text>
<text x="514.00" y="312.40" font-size="9.2" text-anchor="start" fill="#141414" font-weight="normal" dominant-baseline="central" >Armatimonadota</text>
<text x="514.00" y="323.35" font-size="9.2" text-anchor="start" fill="#141414" font-weight="normal" dominant-baseline="central" >Bacillota</text>
<text x="514.00" y="334.30" font-size="9.2" text-anchor="start" fill="#141414" font-weight="normal" dominant-baseline="central" >Bacteroidota</text>
<text x="514.00" y="345.25" font-size="9.2" text-anchor="start" fill="#141414" font-weight="normal" dominant-baseline="central" >Bdellovibrionota</text>
<text x="514.00" y="356.20" font-size="9.2" text-anchor="start" fill="#141414" font-weight="normal" dominant-baseline="central" >Campylobacterota</text>
<text x="514.00" y="367.15" font-size="9.2" text-anchor="start" fill="#141414" font-weight="normal" dominant-baseline="central" >Chloroflexota</text>
<text x="514.00" y="378.10" font-size="9.2" text-anchor="start" fill="#141414" font-weight="normal" dominant-baseline="central" >Cyanobacteriota</text>
<text x="514.00" y="389.05" font-size="9.2" text-anchor="start" fill="#141414" font-weight="normal" dominant-baseline="central" >Deinococcota</text>
<text x="514.00" y="400.00" font-size="9.2" text-anchor="start" fill="#141414" font-weight="normal" dominant-baseline="central" >Mycoplasmatota</text>
<text x="514.00" y="410.95" font-size="9.2" text-anchor="start" fill="#141414" font-weight="normal" dominant-baseline="central" >Myxococcota</text>
<text x="514.00" y="421.90" font-size="9.2" text-anchor="start" fill="#141414" font-weight="normal" dominant-baseline="central" >Nitrospirota</text>
<text x="514.00" y="432.85" font-size="9.2" text-anchor="start" fill="#141414" font-weight="normal" dominant-baseline="central" >Planctomycetota</text>
<text x="514.00" y="443.80" font-size="9.2" text-anchor="start" fill="#141414" font-weight="normal" dominant-baseline="central" >Pseudomonadota</text>
<text x="514.00" y="454.75" font-size="9.2" text-anchor="start" fill="#141414" font-weight="normal" dominant-baseline="central" >Spirochaetota</text>
<text x="514.00" y="465.70" font-size="9.2" text-anchor="start" fill="#141414" font-weight="normal" dominant-baseline="central" >Thermodesulfobacteriota</text>
<text x="514.00" y="476.65" font-size="9.2" text-anchor="start" fill="#141414" font-weight="normal" dominant-baseline="central" >Thermotogota</text>
<text x="514.00" y="487.60" font-size="9.2" text-anchor="start" fill="#141414" font-weight="normal" dominant-baseline="central" >Verrucomicrobiota</text>
<text x="514.00" y="498.55" font-size="9.2" text-anchor="start" fill="#141414" font-weight="normal" dominant-baseline="central" >Bacteria (other)</text>
<text x="643.20" y="248.00" font-size="10.4" text-anchor="start" fill="#141414" font-weight="normal" dominant-baseline="central" >Archaea</text>
<text x="643.00" y="386.00" font-size="10.4" text-anchor="start" fill="#141414" font-weight="normal" dominant-baseline="central" >Bacteria</text>
<rect x="16.3" y="512.3" width="97.9" height="51.0" stroke="#b3b3b3" stroke-width="0.8" stroke-dasharray="3 3" fill="none"/>
<text transform="translate(22.00,515.9) rotate(-90)" font-size="8.6" text-anchor="end" dominant-baseline="central" fill="#141414">I-A</text>
<text transform="translate(33.00,515.9) rotate(-90)" font-size="8.6" text-anchor="end" dominant-baseline="central" fill="#141414">I-B</text>
<text transform="translate(44.00,515.9) rotate(-90)" font-size="8.6" text-anchor="end" dominant-baseline="central" fill="#141414">I-C</text>
<text transform="translate(55.00,515.9) rotate(-90)" font-size="8.6" text-anchor="end" dominant-baseline="central" fill="#141414">I-D</text>
<text transform="translate(66.00,515.9) rotate(-90)" font-size="8.6" text-anchor="end" dominant-baseline="central" fill="#141414">I-E</text>
<text transform="translate(77.00,515.9) rotate(-90)" font-size="8.6" text-anchor="end" dominant-baseline="central" fill="#141414">I-F1</text>
<text transform="translate(88.00,515.9) rotate(-90)" font-size="8.6" text-anchor="end" dominant-baseline="central" fill="#141414">I-F2</text>
<text transform="translate(99.00,515.9) rotate(-90)" font-size="8.6" text-anchor="end" dominant-baseline="central" fill="#141414">I-G</text>
<text transform="translate(110.00,515.9) rotate(-90)" font-size="8.6" text-anchor="end" dominant-baseline="central" fill="#141414">Type I</text>
<text x="65.25" y="552.00" font-size="10.3" text-anchor="middle" fill="#141414" font-weight="normal" dominant-baseline="central" >I</text>
<rect x="117.4" y="512.3" width="46.0" height="51.0" stroke="#b3b3b3" stroke-width="0.8" stroke-dasharray="3 3" fill="none"/>
<text transform="translate(125.00,515.9) rotate(-90)" font-size="8.6" text-anchor="end" dominant-baseline="central" fill="#141414">II-A</text>
<text transform="translate(136.00,515.9) rotate(-90)" font-size="8.6" text-anchor="end" dominant-baseline="central" fill="#141414">II-B</text>
<text transform="translate(147.00,515.9) rotate(-90)" font-size="8.6" text-anchor="end" dominant-baseline="central" fill="#141414">II-C</text>
<text transform="translate(158.00,515.9) rotate(-90)" font-size="8.6" text-anchor="end" dominant-baseline="central" fill="#141414">II-D</text>
<text x="140.40" y="552.00" font-size="10.3" text-anchor="middle" fill="#141414" font-weight="normal" dominant-baseline="central" >II</text>
<rect x="166.4" y="512.3" width="99.5" height="51.0" stroke="#b3b3b3" stroke-width="0.8" stroke-dasharray="3 3" fill="none"/>
<text transform="translate(172.00,515.9) rotate(-90)" font-size="8.6" text-anchor="end" dominant-baseline="central" fill="#141414">III-A</text>
<text transform="translate(183.00,515.9) rotate(-90)" font-size="8.6" text-anchor="end" dominant-baseline="central" fill="#141414">III-B</text>
<text transform="translate(194.00,515.9) rotate(-90)" font-size="8.6" text-anchor="end" dominant-baseline="central" fill="#141414">III-C</text>
<text transform="translate(205.00,515.9) rotate(-90)" font-size="8.6" text-anchor="end" dominant-baseline="central" fill="#141414">III-D</text>
<text transform="translate(216.00,515.9) rotate(-90)" font-size="8.6" text-anchor="end" dominant-baseline="central" fill="#141414">III-E</text>
<text transform="translate(227.00,515.9) rotate(-90)" font-size="8.6" text-anchor="end" dominant-baseline="central" fill="#141414">III-F</text>
<text transform="translate(238.00,515.9) rotate(-90)" font-size="8.6" text-anchor="end" dominant-baseline="central" fill="#141414">III-G</text>
<text transform="translate(249.00,515.9) rotate(-90)" font-size="8.6" text-anchor="end" dominant-baseline="central" fill="#141414">III-I</text>
<text transform="translate(260.00,515.9) rotate(-90)" font-size="8.6" text-anchor="end" dominant-baseline="central" fill="#141414">Type III</text>
<text x="216.15" y="552.00" font-size="10.3" text-anchor="middle" fill="#141414" font-weight="normal" dominant-baseline="central" >III</text>
<rect x="269.4" y="512.3" width="33.1" height="51.0" stroke="#b3b3b3" stroke-width="0.8" stroke-dasharray="3 3" fill="none"/>
<text transform="translate(275.00,515.9) rotate(-90)" font-size="8.6" text-anchor="end" dominant-baseline="central" fill="#141414">IV-A</text>
<text transform="translate(286.00,515.9) rotate(-90)" font-size="8.6" text-anchor="end" dominant-baseline="central" fill="#141414">IV-B</text>
<text transform="translate(297.00,515.9) rotate(-90)" font-size="8.6" text-anchor="end" dominant-baseline="central" fill="#141414">IV-C</text>
<text x="285.95" y="552.00" font-size="10.3" text-anchor="middle" fill="#141414" font-weight="normal" dominant-baseline="central" >IV</text>
<rect x="306.1" y="512.3" width="121.6" height="51.0" stroke="#b3b3b3" stroke-width="0.8" stroke-dasharray="3 3" fill="none"/>
<text transform="translate(311.60,515.9) rotate(-90)" font-size="8.6" text-anchor="end" dominant-baseline="central" fill="#141414">V-A1</text>
<text transform="translate(322.60,515.9) rotate(-90)" font-size="8.6" text-anchor="end" dominant-baseline="central" fill="#141414">V-A2</text>
<text transform="translate(333.60,515.9) rotate(-90)" font-size="8.6" text-anchor="end" dominant-baseline="central" fill="#141414">V-B1</text>
<text transform="translate(344.60,515.9) rotate(-90)" font-size="8.6" text-anchor="end" dominant-baseline="central" fill="#141414">V-B2</text>
<text transform="translate(355.60,515.9) rotate(-90)" font-size="8.6" text-anchor="end" dominant-baseline="central" fill="#141414">V-D</text>
<text transform="translate(366.60,515.9) rotate(-90)" font-size="8.6" text-anchor="end" dominant-baseline="central" fill="#141414">V-F01</text>
<text transform="translate(377.60,515.9) rotate(-90)" font-size="8.6" text-anchor="end" dominant-baseline="central" fill="#141414">V-F04</text>
<text transform="translate(388.60,515.9) rotate(-90)" font-size="8.6" text-anchor="end" dominant-baseline="central" fill="#141414">V-F05</text>
<text transform="translate(399.60,515.9) rotate(-90)" font-size="8.6" text-anchor="end" dominant-baseline="central" fill="#141414">V-F09</text>
<text transform="translate(410.60,515.9) rotate(-90)" font-size="8.6" text-anchor="end" dominant-baseline="central" fill="#141414">V-K</text>
<text transform="translate(421.60,515.9) rotate(-90)" font-size="8.6" text-anchor="end" dominant-baseline="central" fill="#141414">V-M</text>
<text x="366.90" y="552.00" font-size="10.3" text-anchor="middle" fill="#141414" font-weight="normal" dominant-baseline="central" >V</text>
<rect x="431.2" y="512.3" width="53.4" height="51.0" stroke="#b3b3b3" stroke-width="0.8" stroke-dasharray="3 3" fill="none"/>
<text transform="translate(436.00,515.9) rotate(-90)" font-size="8.6" text-anchor="end" dominant-baseline="central" fill="#141414">VI-A</text>
<text transform="translate(447.00,515.9) rotate(-90)" font-size="8.6" text-anchor="end" dominant-baseline="central" fill="#141414">VI-B</text>
<text transform="translate(458.00,515.9) rotate(-90)" font-size="8.6" text-anchor="end" dominant-baseline="central" fill="#141414">VI-C</text>
<text transform="translate(469.00,515.9) rotate(-90)" font-size="8.6" text-anchor="end" dominant-baseline="central" fill="#141414">VI-D</text>
<text transform="translate(480.00,515.9) rotate(-90)" font-size="8.6" text-anchor="end" dominant-baseline="central" fill="#141414">VI-F</text>
<text x="457.90" y="552.00" font-size="10.3" text-anchor="middle" fill="#141414" font-weight="normal" dominant-baseline="central" >VI</text>
<rect x="488.1" y="512.3" width="14.2" height="51.0" stroke="#b3b3b3" stroke-width="0.8" stroke-dasharray="3 3" fill="none"/>
<text transform="translate(495.00,515.9) rotate(-90)" font-size="8.6" text-anchor="end" dominant-baseline="central" fill="#141414">VII-A</text>
<text x="495.20" y="552.00" font-size="10.3" text-anchor="middle" fill="#141414" font-weight="normal" dominant-baseline="central" >VII</text>
<rect x="511.90" y="531.70" width="5.00" height="11.00" fill="rgb(255,255,255)" stroke="rgba(0,0,0,0.07)" stroke-width="0.6"/>
<rect x="516.90" y="531.70" width="5.00" height="11.00" fill="rgb(255,242,242)" stroke="rgba(0,0,0,0.07)" stroke-width="0.6"/>
<rect x="521.90" y="531.70" width="5.00" height="11.00" fill="rgb(255,230,230)" stroke="rgba(0,0,0,0.07)" stroke-width="0.6"/>
<rect x="526.90" y="531.70" width="5.00" height="11.00" fill="rgb(255,217,217)" stroke="rgba(0,0,0,0.07)" stroke-width="0.6"/>
<rect x="531.90" y="531.70" width="5.00" height="11.00" fill="rgb(255,204,204)" stroke="rgba(0,0,0,0.07)" stroke-width="0.6"/>
<rect x="536.90" y="531.70" width="5.00" height="11.00" fill="rgb(255,191,191)" stroke="rgba(0,0,0,0.07)" stroke-width="0.6"/>
<rect x="541.90" y="531.70" width="5.00" height="11.00" fill="rgb(255,178,178)" stroke="rgba(0,0,0,0.07)" stroke-width="0.6"/>
<rect x="546.90" y="531.70" width="5.00" height="11.00" fill="rgb(255,166,166)" stroke="rgba(0,0,0,0.07)" stroke-width="0.6"/>
<rect x="551.90" y="531.70" width="5.00" height="11.00" fill="rgb(255,153,153)" stroke="rgba(0,0,0,0.07)" stroke-width="0.6"/>
<rect x="556.90" y="531.70" width="5.00" height="11.00" fill="rgb(255,140,140)" stroke="rgba(0,0,0,0.07)" stroke-width="0.6"/>
<rect x="561.90" y="531.70" width="5.00" height="11.00" fill="rgb(255,128,128)" stroke="rgba(0,0,0,0.07)" stroke-width="0.6"/>
<rect x="566.90" y="531.70" width="5.00" height="11.00" fill="rgb(255,115,115)" stroke="rgba(0,0,0,0.07)" stroke-width="0.6"/>
<rect x="571.90" y="531.70" width="5.00" height="11.00" fill="rgb(255,102,102)" stroke="rgba(0,0,0,0.07)" stroke-width="0.6"/>
<rect x="576.90" y="531.70" width="5.00" height="11.00" fill="rgb(255,89,89)" stroke="rgba(0,0,0,0.07)" stroke-width="0.6"/>
<rect x="581.90" y="531.70" width="5.00" height="11.00" fill="rgb(255,77,77)" stroke="rgba(0,0,0,0.07)" stroke-width="0.6"/>
<rect x="586.90" y="531.70" width="5.00" height="11.00" fill="rgb(255,64,64)" stroke="rgba(0,0,0,0.07)" stroke-width="0.6"/>
<rect x="591.90" y="531.70" width="5.00" height="11.00" fill="rgb(255,51,51)" stroke="rgba(0,0,0,0.07)" stroke-width="0.6"/>
<rect x="596.90" y="531.70" width="5.00" height="11.00" fill="rgb(255,38,38)" stroke="rgba(0,0,0,0.07)" stroke-width="0.6"/>
<rect x="601.90" y="531.70" width="5.00" height="11.00" fill="rgb(255,25,25)" stroke="rgba(0,0,0,0.07)" stroke-width="0.6"/>
<rect x="606.90" y="531.70" width="5.00" height="11.00" fill="rgb(255,13,13)" stroke="rgba(0,0,0,0.07)" stroke-width="0.6"/>
<rect x="611.90" y="531.70" width="5.00" height="11.00" fill="rgb(255,0,0)" stroke="rgba(0,0,0,0.07)" stroke-width="0.6"/>
<rect x="511.9" y="531.7" width="5.00" height="11.0" fill="none" stroke="#d6d6d6" stroke-width="0.7"/>
<text x="554.10" y="516.40" font-size="8.9" text-anchor="middle" fill="#141414" font-weight="normal" dominant-baseline="central" >Fraction</text>
<text x="510.70" y="523.60" font-size="9.0" text-anchor="start" fill="#141414" font-weight="normal" dominant-baseline="central" >0</text>
<text x="616.00" y="523.60" font-size="9.0" text-anchor="end" fill="#141414" font-weight="normal" dominant-baseline="central" >0.75</text>
<text x="77.70" y="594.80" font-size="10.8" text-anchor="start" fill="#141414" font-weight="normal" dominant-baseline="central" >Complete genomes</text>
<line x1="58.30" y1="612.20" x2="58.30" y2="868.80" stroke="#b4b4b4" stroke-width="1.3" />
<text x="48.00" y="867.60" font-size="9.4" text-anchor="end" fill="#141414" font-weight="normal" dominant-baseline="central" >0</text>
<line x1="52.90" y1="843.19" x2="58.80" y2="843.19" stroke="#6e6e6e" stroke-width="1" />
<text x="48.00" y="841.99" font-size="9.4" text-anchor="end" fill="#141414" font-weight="normal" dominant-baseline="central" >10</text>
<line x1="52.90" y1="817.58" x2="58.80" y2="817.58" stroke="#6e6e6e" stroke-width="1" />
<text x="48.00" y="816.38" font-size="9.4" text-anchor="end" fill="#141414" font-weight="normal" dominant-baseline="central" >20</text>
<line x1="52.90" y1="791.97" x2="58.80" y2="791.97" stroke="#6e6e6e" stroke-width="1" />
<text x="48.00" y="790.77" font-size="9.4" text-anchor="end" fill="#141414" font-weight="normal" dominant-baseline="central" >30</text>
<line x1="52.90" y1="766.36" x2="58.80" y2="766.36" stroke="#6e6e6e" stroke-width="1" />
<text x="48.00" y="765.16" font-size="9.4" text-anchor="end" fill="#141414" font-weight="normal" dominant-baseline="central" >40</text>
<line x1="52.90" y1="740.75" x2="58.80" y2="740.75" stroke="#6e6e6e" stroke-width="1" />
<text x="48.00" y="739.55" font-size="9.4" text-anchor="end" fill="#141414" font-weight="normal" dominant-baseline="central" >50</text>
<line x1="52.90" y1="715.14" x2="58.80" y2="715.14" stroke="#6e6e6e" stroke-width="1" />
<text x="48.00" y="713.94" font-size="9.4" text-anchor="end" fill="#141414" font-weight="normal" dominant-baseline="central" >60</text>
<line x1="52.90" y1="689.53" x2="58.80" y2="689.53" stroke="#6e6e6e" stroke-width="1" />
<text x="48.00" y="688.33" font-size="9.4" text-anchor="end" fill="#141414" font-weight="normal" dominant-baseline="central" >70</text>
<line x1="52.90" y1="663.92" x2="58.80" y2="663.92" stroke="#6e6e6e" stroke-width="1" />
<text x="48.00" y="662.72" font-size="9.4" text-anchor="end" fill="#141414" font-weight="normal" dominant-baseline="central" >80</text>
<line x1="52.90" y1="638.31" x2="58.80" y2="638.31" stroke="#6e6e6e" stroke-width="1" />
<text x="48.00" y="637.11" font-size="9.4" text-anchor="end" fill="#141414" font-weight="normal" dominant-baseline="central" >90</text>
<line x1="52.90" y1="612.70" x2="58.80" y2="612.70" stroke="#6e6e6e" stroke-width="1" />
<text x="48.00" y="611.50" font-size="9.4" text-anchor="end" fill="#141414" font-weight="normal" dominant-baseline="central" >100</text>
<rect x="64.50" y="612.70" width="24.30" height="256.10" fill="#d9d9d9" />
<line x1="53.00" y1="869.00" x2="100.80" y2="869.00" stroke="#c2c2c2" stroke-width="1" />
<rect x="64.20" y="868.00" width="24.60" height="1.00" fill="#e8141c" />
<line x1="89.00" y1="868.60" x2="114.10" y2="881.70" stroke="#111" stroke-width="1.15" />
<text x="112.40" y="891.20" font-size="10.4" text-anchor="start" fill="#141414" font-weight="normal" dominant-baseline="central" >0.3%</text>
<text transform="translate(24.5,723.7) rotate(-90)" font-size="10.7" text-anchor="middle" dominant-baseline="central" fill="#141414">Weighted abundance (%)</text>
<rect x="21.80" y="883.00" width="9.20" height="8.70" fill="#d9d9d9" />
<text x="34.20" y="887.20" font-size="8.3" text-anchor="start" fill="#141414" font-weight="normal" dominant-baseline="central" >Old subtypes</text>
<rect x="21.80" y="897.90" width="9.20" height="8.60" fill="#ff0000" />
<text x="34.20" y="901.60" font-size="8.3" text-anchor="start" fill="#141414" font-weight="normal" dominant-baseline="central" >New subtypes</text>
<line x1="189.60" y1="613.00" x2="189.60" y2="870.80" stroke="#8c8c8c" stroke-width="1" />
<text x="181.20" y="869.60" font-size="9.4" text-anchor="end" fill="#141414" font-weight="normal" dominant-baseline="central" >0</text>
<line x1="184.90" y1="845.07" x2="190.10" y2="845.07" stroke="#6e6e6e" stroke-width="1" />
<text x="181.20" y="843.87" font-size="9.4" text-anchor="end" fill="#141414" font-weight="normal" dominant-baseline="central" >10</text>
<line x1="184.90" y1="819.34" x2="190.10" y2="819.34" stroke="#6e6e6e" stroke-width="1" />
<text x="181.20" y="818.14" font-size="9.4" text-anchor="end" fill="#141414" font-weight="normal" dominant-baseline="central" >20</text>
<line x1="184.90" y1="793.61" x2="190.10" y2="793.61" stroke="#6e6e6e" stroke-width="1" />
<text x="181.20" y="792.41" font-size="9.4" text-anchor="end" fill="#141414" font-weight="normal" dominant-baseline="central" >30</text>
<line x1="184.90" y1="767.88" x2="190.10" y2="767.88" stroke="#6e6e6e" stroke-width="1" />
<text x="181.20" y="766.68" font-size="9.4" text-anchor="end" fill="#141414" font-weight="normal" dominant-baseline="central" >40</text>
<line x1="184.90" y1="742.15" x2="190.10" y2="742.15" stroke="#6e6e6e" stroke-width="1" />
<text x="181.20" y="740.95" font-size="9.4" text-anchor="end" fill="#141414" font-weight="normal" dominant-baseline="central" >50</text>
<line x1="184.90" y1="716.42" x2="190.10" y2="716.42" stroke="#6e6e6e" stroke-width="1" />
<text x="181.20" y="715.22" font-size="9.4" text-anchor="end" fill="#141414" font-weight="normal" dominant-baseline="central" >60</text>
<line x1="184.90" y1="690.69" x2="190.10" y2="690.69" stroke="#6e6e6e" stroke-width="1" />
<text x="181.20" y="689.49" font-size="9.4" text-anchor="end" fill="#141414" font-weight="normal" dominant-baseline="central" >70</text>
<line x1="184.90" y1="664.96" x2="190.10" y2="664.96" stroke="#6e6e6e" stroke-width="1" />
<text x="181.20" y="663.76" font-size="9.4" text-anchor="end" fill="#141414" font-weight="normal" dominant-baseline="central" >80</text>
<line x1="184.90" y1="639.23" x2="190.10" y2="639.23" stroke="#6e6e6e" stroke-width="1" />
<text x="181.20" y="638.03" font-size="9.4" text-anchor="end" fill="#141414" font-weight="normal" dominant-baseline="central" >90</text>
<line x1="184.90" y1="613.50" x2="190.10" y2="613.50" stroke="#6e6e6e" stroke-width="1" />
<text x="181.20" y="612.30" font-size="9.4" text-anchor="end" fill="#141414" font-weight="normal" dominant-baseline="central" >100</text>
<rect x="192.90" y="726.45" width="24.80" height="144.35" fill="#ff00ff" />
<rect x="192.90" y="691.98" width="24.80" height="34.48" fill="#00a6ed" />
<rect x="192.90" y="624.82" width="24.80" height="67.16" fill="#00ffff" />
<rect x="192.90" y="622.25" width="24.80" height="2.57" fill="#90c95a" />
<rect x="192.90" y="615.30" width="24.80" height="6.95" fill="#cdeefc" />
<rect x="192.90" y="613.50" width="24.80" height="1.80" fill="#ffbf00" />
<rect x="242.00" y="856.13" width="24.70" height="14.67" fill="#00a6ed" />
<rect x="242.00" y="741.64" width="24.70" height="114.50" fill="#00ffff" />
<rect x="242.00" y="687.60" width="24.70" height="54.03" fill="#cdeefc" />
<rect x="242.00" y="643.60" width="24.70" height="44.00" fill="#ffbf00" />
<rect x="242.00" y="613.50" width="24.70" height="30.10" fill="#ff0000" />
<line x1="184.90" y1="870.80" x2="279.00" y2="870.80" stroke="#c2c2c2" stroke-width="1" />
<text x="205.00" y="880.10" font-size="10.7" text-anchor="middle" fill="#141414" font-weight="normal" dominant-baseline="central" >Old</text>
<text x="205.00" y="891.50" font-size="10.7" text-anchor="middle" fill="#141414" font-weight="normal" dominant-baseline="central" >subtypes</text>
<text x="254.80" y="880.10" font-size="10.7" text-anchor="middle" fill="#141414" font-weight="normal" dominant-baseline="central" >New</text>
<text x="254.80" y="891.50" font-size="10.7" text-anchor="middle" fill="#141414" font-weight="normal" dominant-baseline="central" >subtypes</text>
<rect x="160.10" y="907.05" width="8.90" height="8.50" fill="#ff00ff" />
<text x="173.40" y="911.30" font-size="7.9" text-anchor="start" fill="#141414" font-weight="normal" dominant-baseline="central" >Type I</text>
<rect x="209.20" y="907.05" width="8.90" height="8.50" fill="#00a6ed" />
<text x="222.90" y="911.30" font-size="7.9" text-anchor="start" fill="#141414" font-weight="normal" dominant-baseline="central" >Type II</text>
<rect x="255.00" y="907.05" width="8.90" height="8.50" fill="#00ffff" />
<text x="268.00" y="911.30" font-size="7.9" text-anchor="start" fill="#141414" font-weight="normal" dominant-baseline="central" >Type III</text>
<rect x="160.10" y="919.85" width="8.90" height="8.50" fill="#90c95a" />
<text x="173.40" y="924.10" font-size="7.9" text-anchor="start" fill="#141414" font-weight="normal" dominant-baseline="central" >Type IV</text>
<rect x="209.20" y="919.85" width="8.90" height="8.50" fill="#cdeefc" />
<text x="222.90" y="924.10" font-size="7.9" text-anchor="start" fill="#141414" font-weight="normal" dominant-baseline="central" >Type V</text>
<rect x="255.00" y="919.85" width="8.90" height="8.50" fill="#ffbf00" />
<text x="268.00" y="924.10" font-size="7.9" text-anchor="start" fill="#141414" font-weight="normal" dominant-baseline="central" >Type VI</text>
<rect x="160.10" y="932.75" width="8.90" height="8.50" fill="#ff0000" />
<text x="173.40" y="937.00" font-size="7.9" text-anchor="start" fill="#141414" font-weight="normal" dominant-baseline="central" >Type VII</text>
<text x="409.00" y="594.80" font-size="10.8" text-anchor="start" fill="#141414" font-weight="normal" dominant-baseline="central" >Clustered NR database</text>
<line x1="391.40" y1="610.50" x2="391.40" y2="867.60" stroke="#8c8c8c" stroke-width="1" />
<text x="381.80" y="866.40" font-size="9.4" text-anchor="end" fill="#141414" font-weight="normal" dominant-baseline="central" >0</text>
<line x1="386.40" y1="841.94" x2="391.90" y2="841.94" stroke="#6e6e6e" stroke-width="1" />
<text x="381.80" y="840.74" font-size="9.4" text-anchor="end" fill="#141414" font-weight="normal" dominant-baseline="central" >10</text>
<line x1="386.40" y1="816.28" x2="391.90" y2="816.28" stroke="#6e6e6e" stroke-width="1" />
<text x="381.80" y="815.08" font-size="9.4" text-anchor="end" fill="#141414" font-weight="normal" dominant-baseline="central" >20</text>
<line x1="386.40" y1="790.62" x2="391.90" y2="790.62" stroke="#6e6e6e" stroke-width="1" />
<text x="381.80" y="789.42" font-size="9.4" text-anchor="end" fill="#141414" font-weight="normal" dominant-baseline="central" >30</text>
<line x1="386.40" y1="764.96" x2="391.90" y2="764.96" stroke="#6e6e6e" stroke-width="1" />
<text x="381.80" y="763.76" font-size="9.4" text-anchor="end" fill="#141414" font-weight="normal" dominant-baseline="central" >40</text>
<line x1="386.40" y1="739.30" x2="391.90" y2="739.30" stroke="#6e6e6e" stroke-width="1" />
<text x="381.80" y="738.10" font-size="9.4" text-anchor="end" fill="#141414" font-weight="normal" dominant-baseline="central" >50</text>
<line x1="386.40" y1="713.64" x2="391.90" y2="713.64" stroke="#6e6e6e" stroke-width="1" />
<text x="381.80" y="712.44" font-size="9.4" text-anchor="end" fill="#141414" font-weight="normal" dominant-baseline="central" >60</text>
<line x1="386.40" y1="687.98" x2="391.90" y2="687.98" stroke="#6e6e6e" stroke-width="1" />
<text x="381.80" y="686.78" font-size="9.4" text-anchor="end" fill="#141414" font-weight="normal" dominant-baseline="central" >70</text>
<line x1="386.40" y1="662.32" x2="391.90" y2="662.32" stroke="#6e6e6e" stroke-width="1" />
<text x="381.80" y="661.12" font-size="9.4" text-anchor="end" fill="#141414" font-weight="normal" dominant-baseline="central" >80</text>
<line x1="386.40" y1="636.66" x2="391.90" y2="636.66" stroke="#6e6e6e" stroke-width="1" />
<text x="381.80" y="635.46" font-size="9.4" text-anchor="end" fill="#141414" font-weight="normal" dominant-baseline="central" >90</text>
<line x1="386.40" y1="611.00" x2="391.90" y2="611.00" stroke="#6e6e6e" stroke-width="1" />
<text x="381.80" y="609.80" font-size="9.4" text-anchor="end" fill="#141414" font-weight="normal" dominant-baseline="central" >100</text>
<rect x="398.30" y="611.00" width="23.80" height="256.60" fill="#d9d9d9" />
<line x1="386.40" y1="867.60" x2="434.80" y2="867.60" stroke="#c2c2c2" stroke-width="1" />
<rect x="398.30" y="866.10" width="23.80" height="1.50" fill="#f01018" />
<line x1="422.40" y1="867.40" x2="446.70" y2="880.50" stroke="#111" stroke-width="1.15" />
<text x="446.50" y="890.50" font-size="10.4" text-anchor="start" fill="#141414" font-weight="normal" dominant-baseline="central" >0.8%</text>
<text transform="translate(354.5,739.2) rotate(-90)" font-size="10.5" text-anchor="middle" dominant-baseline="central" fill="#141414">Abundance (%)</text>
<rect x="354.90" y="881.20" width="9.20" height="8.70" fill="#d9d9d9" />
<text x="368.50" y="885.50" font-size="10.8" text-anchor="start" fill="#141414" font-weight="normal" dominant-baseline="central" >Old subtypes</text>
<rect x="354.90" y="897.90" width="9.20" height="8.70" fill="#ff0000" />
<text x="368.50" y="901.60" font-size="10.8" text-anchor="start" fill="#141414" font-weight="normal" dominant-baseline="central" >New subtypes</text>
<line x1="523.30" y1="611.00" x2="523.30" y2="868.00" stroke="#8c8c8c" stroke-width="1" />
<text x="513.80" y="866.80" font-size="9.4" text-anchor="end" fill="#141414" font-weight="normal" dominant-baseline="central" >0</text>
<line x1="518.40" y1="842.35" x2="523.80" y2="842.35" stroke="#6e6e6e" stroke-width="1" />
<text x="513.80" y="841.15" font-size="9.4" text-anchor="end" fill="#141414" font-weight="normal" dominant-baseline="central" >10</text>
<line x1="518.40" y1="816.70" x2="523.80" y2="816.70" stroke="#6e6e6e" stroke-width="1" />
<text x="513.80" y="815.50" font-size="9.4" text-anchor="end" fill="#141414" font-weight="normal" dominant-baseline="central" >20</text>
<line x1="518.40" y1="791.05" x2="523.80" y2="791.05" stroke="#6e6e6e" stroke-width="1" />
<text x="513.80" y="789.85" font-size="9.4" text-anchor="end" fill="#141414" font-weight="normal" dominant-baseline="central" >30</text>
<line x1="518.40" y1="765.40" x2="523.80" y2="765.40" stroke="#6e6e6e" stroke-width="1" />
<text x="513.80" y="764.20" font-size="9.4" text-anchor="end" fill="#141414" font-weight="normal" dominant-baseline="central" >40</text>
<line x1="518.40" y1="739.75" x2="523.80" y2="739.75" stroke="#6e6e6e" stroke-width="1" />
<text x="513.80" y="738.55" font-size="9.4" text-anchor="end" fill="#141414" font-weight="normal" dominant-baseline="central" >50</text>
<line x1="518.40" y1="714.10" x2="523.80" y2="714.10" stroke="#6e6e6e" stroke-width="1" />
<text x="513.80" y="712.90" font-size="9.4" text-anchor="end" fill="#141414" font-weight="normal" dominant-baseline="central" >60</text>
<line x1="518.40" y1="688.45" x2="523.80" y2="688.45" stroke="#6e6e6e" stroke-width="1" />
<text x="513.80" y="687.25" font-size="9.4" text-anchor="end" fill="#141414" font-weight="normal" dominant-baseline="central" >70</text>
<line x1="518.40" y1="662.80" x2="523.80" y2="662.80" stroke="#6e6e6e" stroke-width="1" />
<text x="513.80" y="661.60" font-size="9.4" text-anchor="end" fill="#141414" font-weight="normal" dominant-baseline="central" >80</text>
<line x1="518.40" y1="637.15" x2="523.80" y2="637.15" stroke="#6e6e6e" stroke-width="1" />
<text x="513.80" y="635.95" font-size="9.4" text-anchor="end" fill="#141414" font-weight="normal" dominant-baseline="central" >90</text>
<line x1="518.40" y1="611.50" x2="523.80" y2="611.50" stroke="#6e6e6e" stroke-width="1" />
<text x="513.80" y="610.30" font-size="9.4" text-anchor="end" fill="#141414" font-weight="normal" dominant-baseline="central" >100</text>
<rect x="529.30" y="720.77" width="24.70" height="147.23" fill="#ff00ff" />
<rect x="529.30" y="681.78" width="24.70" height="38.99" fill="#00a6ed" />
<rect x="529.30" y="625.35" width="24.70" height="56.43" fill="#00ffff" />
<rect x="529.30" y="622.79" width="24.70" height="2.56" fill="#90c95a" />
<rect x="529.30" y="615.86" width="24.70" height="6.93" fill="#cdeefc" />
<rect x="529.30" y="611.50" width="24.70" height="4.36" fill="#ffbf00" />
<rect x="578.50" y="851.33" width="24.50" height="16.67" fill="#00a6ed" />
<rect x="578.50" y="708.97" width="24.50" height="142.36" fill="#00ffff" />
<rect x="578.50" y="655.11" width="24.50" height="53.87" fill="#cdeefc" />
<rect x="578.50" y="622.53" width="24.50" height="32.58" fill="#ffbf00" />
<rect x="578.50" y="611.50" width="24.50" height="11.03" fill="#ff0000" />
<line x1="518.40" y1="868.00" x2="615.30" y2="868.00" stroke="#c2c2c2" stroke-width="1" />
<text x="541.60" y="877.30" font-size="10.7" text-anchor="middle" fill="#141414" font-weight="normal" dominant-baseline="central" >Old</text>
<text x="541.60" y="889.30" font-size="10.7" text-anchor="middle" fill="#141414" font-weight="normal" dominant-baseline="central" >subtypes</text>
<text x="590.80" y="877.30" font-size="10.7" text-anchor="middle" fill="#141414" font-weight="normal" dominant-baseline="central" >New</text>
<text x="590.80" y="889.30" font-size="10.7" text-anchor="middle" fill="#141414" font-weight="normal" dominant-baseline="central" >subtypes</text>
<rect x="501.40" y="901.10" width="9.30" height="8.80" fill="#ff00ff" />
<text x="514.90" y="905.50" font-size="7.9" text-anchor="start" fill="#141414" font-weight="normal" dominant-baseline="central" >Type I</text>
<rect x="551.00" y="901.10" width="9.30" height="8.80" fill="#00a6ed" />
<text x="564.20" y="905.50" font-size="7.9" text-anchor="start" fill="#141414" font-weight="normal" dominant-baseline="central" >Type II</text>
<rect x="595.50" y="901.10" width="9.30" height="8.80" fill="#00ffff" />
<text x="608.10" y="905.50" font-size="7.9" text-anchor="start" fill="#141414" font-weight="normal" dominant-baseline="central" >Type III</text>
<rect x="501.40" y="914.00" width="9.30" height="8.80" fill="#90c95a" />
<text x="514.90" y="918.40" font-size="7.9" text-anchor="start" fill="#141414" font-weight="normal" dominant-baseline="central" >Type IV</text>
<rect x="551.00" y="914.00" width="9.30" height="8.80" fill="#cdeefc" />
<text x="564.20" y="918.40" font-size="7.9" text-anchor="start" fill="#141414" font-weight="normal" dominant-baseline="central" >Type V</text>
<rect x="595.50" y="914.00" width="9.30" height="8.80" fill="#ffbf00" />
<text x="608.10" y="918.40" font-size="7.9" text-anchor="start" fill="#141414" font-weight="normal" dominant-baseline="central" >Type VI</text>
<rect x="501.40" y="927.50" width="9.30" height="8.80" fill="#ff0000" />
<text x="514.90" y="931.90" font-size="7.9" text-anchor="start" fill="#141414" font-weight="normal" dominant-baseline="central" >Type VII</text>
</svg>
</body></html>
